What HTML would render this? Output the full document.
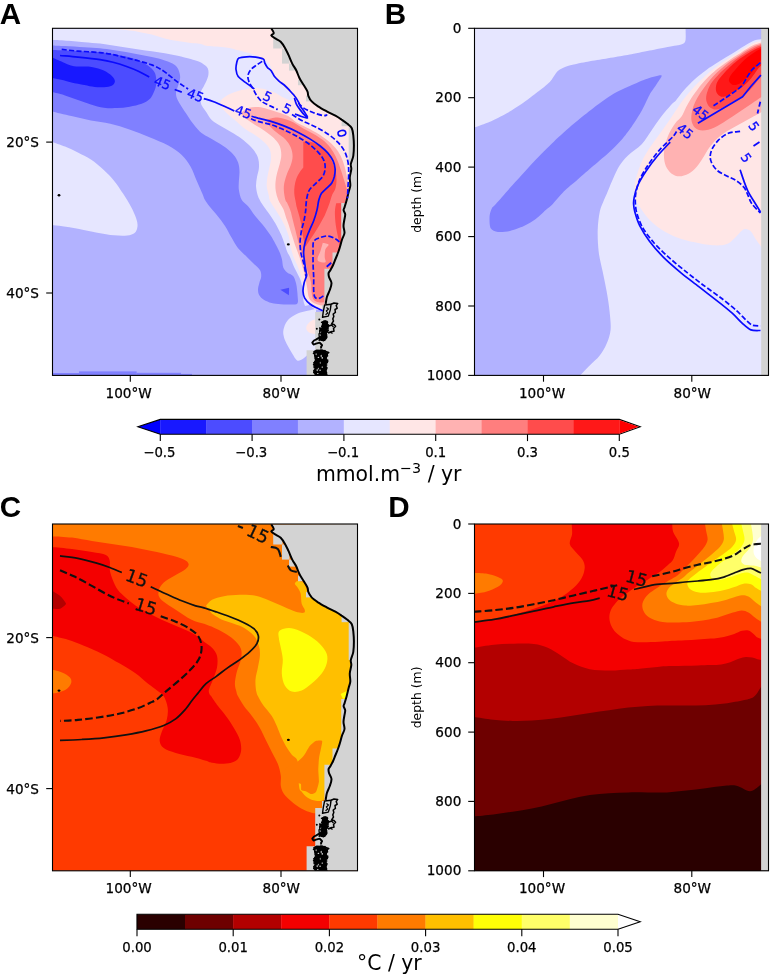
<!DOCTYPE html>
<html><head><meta charset="utf-8"><title>Figure</title>
<style>html,body{margin:0;padding:0;background:#fff}svg{display:block}</style></head>
<body>
<svg width="772" height="976" viewBox="0 0 772 976" font-family="'DejaVu Sans', 'Liberation Sans', sans-serif">
<defs>
<clipPath id="clipA"><rect x="52.5" y="28.3" width="305" height="347.1"/></clipPath>
<clipPath id="clipB"><rect x="474.5" y="28.3" width="294" height="347.1"/></clipPath>
<clipPath id="clipC"><rect x="52.5" y="524.0" width="305" height="346.8"/></clipPath>
<clipPath id="clipD"><rect x="474.5" y="524.0" width="294" height="346.8"/></clipPath>
</defs>
<rect width="772" height="976" fill="#fff"/>
<g clip-path="url(#clipA)">
<rect x="52" y="28" width="306" height="348" fill="rgb(178,178,255)"/>
<path d="M52.0 39.9C54.8 40.0 63.4 40.3 68.8 40.7C74.2 41.1 79.2 41.7 84.4 42.2C89.6 42.7 95.2 43.0 100.0 43.5C104.8 44.0 108.7 44.9 113.0 45.5C117.3 46.1 121.6 46.8 125.9 47.4C130.2 48.0 134.6 48.8 138.9 49.4C143.2 50.0 147.5 50.6 151.8 51.3C156.1 51.9 160.5 52.5 164.8 53.3C169.1 54.0 173.4 54.8 177.7 55.8C182.0 56.8 187.3 58.2 190.7 59.1C194.1 60.0 196.0 60.6 198.0 61.3C200.0 62.0 200.9 62.4 202.5 63.5C204.1 64.7 206.7 66.4 207.7 68.2C208.7 70.0 208.6 72.4 208.4 74.6C208.2 76.8 207.2 79.1 206.4 81.1C205.6 83.0 204.8 84.3 203.8 86.3C202.8 88.2 201.1 90.4 200.6 92.8C200.1 95.2 200.4 98.3 200.6 100.5C200.8 102.7 200.9 103.8 201.9 105.7C202.9 107.7 204.8 109.8 206.4 112.2C208.0 114.6 209.5 117.8 211.7 120.0C213.9 122.2 216.6 123.5 219.4 125.2C222.2 126.9 225.2 128.5 228.5 130.4C231.8 132.3 235.7 134.5 238.9 136.8C242.1 139.1 245.3 141.6 247.9 144.0C250.5 146.4 252.7 148.6 254.4 151.1C256.1 153.6 257.6 156.1 258.3 158.9C259.1 161.7 259.1 164.9 258.9 167.9C258.7 170.9 257.5 174.0 257.0 177.0C256.5 180.0 255.9 183.1 256.0 186.1C256.1 189.1 256.9 192.7 257.6 195.1C258.3 197.5 259.0 198.6 260.0 200.5C261.0 202.4 262.1 204.0 263.8 206.5C265.5 209.0 268.1 212.3 270.3 215.5C272.5 218.7 275.0 222.7 276.8 225.9C278.6 229.2 280.0 232.0 281.3 235.0C282.6 238.0 283.6 241.2 284.6 244.0C285.6 246.8 286.3 249.6 287.2 251.8C288.1 254.0 288.8 254.4 290.0 257.0C291.2 259.6 292.7 263.9 294.3 267.4C295.9 270.8 298.2 274.7 299.5 277.7C300.8 280.7 301.4 282.9 302.0 285.5C302.6 288.1 302.8 290.6 303.0 293.0C303.2 295.4 303.0 297.8 303.3 300.0C303.6 302.2 304.7 305.0 305.0 306.0L330 300L358 200L358 28L52 28Z" fill="rgb(230,230,255)" />
<path d="M316.0 309.0C314.4 309.3 309.4 310.3 306.5 311.0C303.6 311.7 301.0 312.1 298.3 313.3C295.6 314.5 292.2 316.2 290.1 318.0C288.0 319.8 286.6 321.5 285.5 323.8C284.4 326.1 283.3 329.3 283.2 332.0C283.1 334.7 284.0 337.6 284.9 340.1C285.8 342.6 287.1 344.8 288.4 347.1C289.7 349.4 291.1 351.9 292.5 354.1C293.9 356.3 295.4 359.7 297.1 360.5C298.9 361.3 301.1 359.9 303.0 358.8C304.9 357.7 306.6 355.7 308.8 354.1C311.0 352.5 314.8 349.9 316.0 349.0Z" fill="rgb(230,230,255)" />
<path d="M52.0 142.0C54.2 142.8 60.7 144.9 65.0 146.6C69.3 148.3 73.6 150.2 77.9 152.4C82.2 154.6 86.6 156.6 90.9 159.5C95.2 162.4 99.9 166.3 103.8 169.9C107.7 173.5 111.0 176.9 114.2 180.9C117.4 184.9 120.4 189.5 123.2 193.8C126.0 198.1 128.8 202.7 131.0 206.8C133.2 210.9 135.1 215.2 136.2 218.4C137.3 221.6 137.7 223.8 137.5 226.2C137.3 228.6 136.6 231.1 134.9 232.7C133.2 234.2 130.5 235.1 127.1 235.5C123.6 235.9 119.2 235.8 114.2 235.3C109.2 234.8 103.3 233.8 97.3 232.7C91.2 231.6 83.7 229.9 77.9 228.8C72.1 227.7 66.7 226.8 62.4 226.2C58.1 225.5 53.7 225.1 52.0 224.9L40 225L40 140Z" fill="rgb(230,230,255)" />
<path d="M52.0 45.5C54.2 45.6 59.6 45.8 65.0 46.1C70.4 46.4 78.6 46.9 84.4 47.3C90.2 47.7 95.2 47.8 100.0 48.3C104.8 48.8 108.7 49.4 113.0 50.0C117.3 50.6 121.6 51.2 125.9 52.0C130.2 52.8 134.6 53.8 138.9 54.6C143.2 55.5 147.5 56.1 151.8 57.1C156.1 58.1 161.4 59.3 164.8 60.4C168.2 61.5 170.3 62.3 172.5 63.6C174.7 64.9 176.5 66.4 177.7 68.2C178.9 70.0 179.5 72.7 179.9 74.6C180.3 76.5 180.2 77.8 179.9 79.8C179.6 81.8 178.6 84.1 177.9 86.3C177.2 88.5 176.1 90.6 176.0 92.8C175.9 95.0 176.3 96.8 177.3 99.2C178.3 101.6 180.2 104.4 181.8 107.0C183.4 109.6 185.3 112.2 187.0 114.8C188.7 117.4 190.0 119.8 192.2 122.6C194.4 125.4 197.4 129.3 200.0 131.7C202.6 134.1 205.0 135.1 207.8 136.8C210.6 138.5 213.8 140.2 216.8 142.0C219.8 143.8 223.1 145.6 225.9 147.8C228.7 150.0 231.6 152.5 233.7 155.0C235.8 157.5 237.2 159.9 238.2 162.7C239.2 165.5 239.4 168.8 239.5 171.8C239.6 174.8 239.0 177.9 238.9 180.9C238.8 183.9 238.4 186.7 238.9 189.9C239.4 193.1 240.2 197.2 241.8 200.0C243.4 202.8 246.1 203.9 248.3 206.5C250.5 209.1 252.4 212.5 254.8 215.5C257.2 218.5 259.9 221.3 262.5 224.6C265.1 227.8 268.1 231.8 270.3 235.0C272.5 238.2 274.0 241.2 275.5 244.0C277.0 246.8 278.3 249.2 279.4 251.8C280.5 254.4 281.4 257.0 282.0 259.6C282.6 262.2 282.4 265.2 283.3 267.4C284.2 269.5 285.6 271.1 287.2 272.5C288.8 273.9 291.6 274.2 293.1 276.0C294.6 277.8 295.3 280.7 296.0 283.0C296.7 285.3 296.8 287.7 297.1 290.0C297.4 292.3 297.6 294.8 297.7 297.0C297.8 299.2 298.5 302.2 297.4 303.4C296.3 304.6 294.1 304.2 291.3 304.4C288.5 304.5 284.0 304.5 280.7 304.3C277.4 304.1 274.4 303.8 271.6 303.0C268.8 302.2 265.9 301.0 263.8 299.7C261.8 298.4 260.3 296.9 259.3 295.2C258.3 293.5 258.0 291.4 258.0 289.4C258.0 287.3 258.8 285.1 259.3 282.9C259.8 280.7 261.1 278.6 261.2 276.4C261.3 274.2 261.2 272.0 259.9 269.9C258.6 267.8 255.9 265.9 253.5 263.5C251.1 261.1 248.3 258.3 245.7 255.7C243.1 253.1 240.3 250.9 237.9 247.9C235.5 244.9 233.7 241.3 231.5 237.6C229.3 233.9 227.4 229.6 225.0 225.9C222.6 222.2 219.8 218.7 217.2 215.5C214.6 212.3 211.6 209.1 209.6 206.5C207.6 203.9 206.2 202.1 205.0 200.0C203.8 197.9 203.9 197.2 202.5 194.0C201.1 190.8 198.8 185.6 196.8 181.0C194.8 176.4 193.1 170.9 190.5 166.5C187.9 162.1 185.2 158.3 181.5 154.8C177.8 151.3 173.7 148.6 168.3 145.6C162.9 142.6 155.4 139.7 148.9 137.0C142.4 134.3 135.8 131.6 129.4 129.4C123.0 127.2 116.7 125.3 110.3 123.8C103.9 122.3 97.4 121.9 90.9 120.6C84.4 119.3 77.9 117.6 71.4 116.1C64.9 114.6 55.2 112.3 52.0 111.5L40 111L40 45Z" fill="rgb(128,128,255)" />
<path d="M52.0 50.0C55.2 50.1 64.9 50.5 71.4 50.8C77.9 51.1 86.1 51.6 90.9 51.8C95.7 52.0 96.3 51.9 100.0 52.2C103.7 52.6 108.7 53.2 113.0 53.9C117.3 54.6 121.6 55.4 125.9 56.5C130.2 57.6 135.2 58.9 138.9 60.4C142.6 61.9 145.3 63.7 147.9 65.6C150.5 67.5 153.0 69.6 154.4 72.0C155.8 74.4 156.1 77.2 156.3 79.8C156.5 82.4 156.2 85.2 155.6 87.6C155.0 90.0 153.8 92.5 152.8 94.4C151.8 96.3 151.2 97.6 149.4 99.2C147.6 100.8 145.0 102.5 141.7 103.8C138.4 105.0 133.8 106.0 129.7 106.7C125.5 107.4 121.1 107.9 116.8 108.1C112.5 108.3 108.1 108.3 103.8 107.7C99.5 107.1 95.2 105.7 90.9 104.4C86.6 103.1 82.2 101.4 77.9 99.9C73.6 98.4 69.3 96.7 65.0 95.4C60.7 94.1 54.2 92.6 52.0 92.1L40 92L40 50Z" fill="rgb(76,76,255)" />
<path d="M52.0 57.5C53.7 58.2 58.7 60.4 62.4 61.9C66.1 63.4 69.7 65.4 74.0 66.2C78.3 67.0 83.8 66.0 88.3 66.6C92.8 67.1 97.5 68.2 101.2 69.5C104.9 70.8 108.0 72.8 110.3 74.6C112.6 76.4 114.4 78.8 114.8 80.5C115.2 82.2 114.3 83.9 112.9 85.0C111.5 86.1 109.4 86.6 106.4 86.9C103.4 87.2 98.4 87.2 94.7 86.9C91.0 86.6 88.3 85.8 84.4 85.0C80.5 84.2 75.3 83.3 71.4 82.4C67.5 81.5 64.3 80.5 61.1 79.8C57.9 79.0 53.5 78.2 52.0 77.9L40 78L40 57Z" fill="rgb(24,24,255)" />
<path d="M280.4 289.7L289.1 287.8L288.9 295.2Z" fill="rgb(76,76,255)" />
<rect x="52" y="373.0" width="27.2" height="3" fill="rgb(128,128,255)"/>
<rect x="79" y="371.4" width="57.7" height="5" fill="rgb(128,128,255)"/>
<rect x="136.5" y="372.8" width="44.5" height="3" fill="rgb(128,128,255)"/>
<rect x="181" y="373.9" width="11" height="2" fill="rgb(128,128,255)"/>
<path d="M104.0 28.0C104.6 28.1 104.1 28.3 107.8 28.6C111.5 28.9 120.7 29.4 125.9 30.0C131.1 30.6 134.6 31.1 138.9 31.9C143.2 32.6 147.5 33.4 151.8 34.5C156.1 35.6 160.5 37.3 164.8 38.4C169.1 39.5 173.4 40.2 177.7 41.0C182.0 41.8 187.0 42.4 190.7 42.9C194.4 43.4 197.2 43.3 200.0 43.8C202.8 44.3 203.4 45.5 207.7 46.1C212.0 46.7 220.8 46.8 226.0 47.5C231.2 48.2 234.7 49.4 239.0 50.5C243.3 51.6 248.3 52.8 252.0 54.0C255.7 55.2 258.4 56.2 261.0 57.5C263.6 58.8 265.7 60.4 267.4 62.0C269.1 63.6 270.1 65.1 271.0 67.0C271.9 68.9 271.6 71.2 272.5 73.3C273.4 75.4 274.6 77.6 276.4 79.8C278.1 82.0 280.8 84.1 283.0 86.3C285.2 88.5 287.5 90.6 289.4 92.8C291.3 95.0 293.6 98.5 294.6 99.5C295.6 100.5 295.4 98.7 295.5 98.5L290.7 100.5C289.4 100.0 285.5 98.6 282.9 97.3C280.3 96.0 277.7 94.0 275.1 92.8C272.5 91.6 270.2 90.7 267.4 89.9C264.6 89.1 261.3 88.4 258.3 88.2C255.3 88.0 252.4 88.2 249.2 88.6C246.0 89.0 242.1 89.9 238.9 90.8C235.7 91.7 232.5 92.8 229.8 94.1C227.1 95.4 224.3 97.2 222.7 98.6C221.1 100.0 220.5 101.8 220.1 102.5L222.0 108.3C223.1 109.4 226.1 112.6 228.5 114.8C230.9 117.0 233.5 118.9 236.3 121.3C239.1 123.7 242.1 126.7 245.3 129.1C248.5 131.5 252.4 133.2 255.7 135.5C258.9 137.8 262.4 140.3 264.8 142.7C267.2 145.1 268.9 147.1 269.9 149.8C270.9 152.5 271.1 155.9 271.0 158.9C270.9 161.9 269.9 164.9 269.3 167.9C268.7 170.9 267.8 174.0 267.4 177.0C267.0 180.0 266.5 183.1 266.7 186.1C266.9 189.1 268.2 192.7 268.7 195.1C269.2 197.5 268.9 198.4 269.8 200.5C270.7 202.6 272.4 204.9 274.2 207.8C276.0 210.7 278.8 214.7 280.7 218.1C282.6 221.5 284.5 225.2 285.9 228.5C287.3 231.8 288.4 234.6 289.1 237.6C289.9 240.6 289.6 243.4 290.4 246.6C291.1 249.8 292.3 253.5 293.6 257.0C294.9 260.5 296.9 263.9 298.2 267.4C299.5 270.8 300.5 274.2 301.4 277.7C302.2 281.1 302.8 285.1 303.3 288.1C303.8 291.1 303.8 293.5 304.6 295.9C305.4 298.3 306.6 300.4 307.9 302.3C309.2 304.2 310.6 306.2 312.4 307.5C314.2 308.8 316.6 309.7 318.9 310.1C321.2 310.5 324.8 310.1 326.0 310.1L358 310L358 28Z" fill="rgb(255,230,230)" />
<path d="M316.0 319.1C315.2 319.4 312.6 319.9 311.1 320.9C309.6 321.9 307.9 323.6 307.1 325.0C306.3 326.4 306.0 328.2 306.5 329.6C307.0 331.0 308.4 332.3 310.0 333.1C311.6 333.9 315.0 334.1 316.0 334.3Z" fill="rgb(255,230,230)" />
<path d="M241.5 112.2C242.8 111.5 246.4 108.6 249.2 107.7C252.0 106.8 255.3 106.8 258.3 107.0C261.3 107.2 264.2 108.1 267.4 109.0C270.6 109.9 274.2 111.0 277.7 112.2C281.1 113.4 284.9 114.3 288.1 116.1C291.3 117.8 293.3 120.5 296.9 122.7C300.5 124.9 305.5 126.7 309.8 129.1C314.1 131.5 319.1 134.4 322.8 136.9C326.5 139.4 329.2 141.5 331.8 144.0C334.4 146.5 336.5 149.0 338.3 151.8C340.1 154.6 341.5 157.5 342.8 160.9C344.1 164.3 345.2 168.6 346.1 172.5C347.0 176.4 347.4 180.3 348.0 184.2C348.6 188.1 349.2 194.0 349.5 196.0L358 200L358 305L324.0 305.6C323.6 305.6 323.0 305.9 321.5 305.6C320.0 305.3 317.1 304.8 315.0 303.6C312.9 302.4 310.5 301.0 309.2 298.4C307.9 295.8 307.8 291.6 307.2 288.1C306.6 284.7 306.1 281.1 305.3 277.7C304.6 274.2 303.7 270.8 302.7 267.4C301.7 263.9 300.7 260.5 299.5 257.0C298.3 253.5 296.8 250.0 295.6 246.6C294.4 243.2 293.5 240.1 292.3 236.3C291.1 232.5 289.5 227.2 288.4 224.0C287.3 220.8 286.6 219.3 285.8 216.8C285.0 214.3 284.5 211.8 283.3 209.1C282.1 206.3 279.6 203.3 278.4 200.3C277.1 197.3 276.3 194.2 275.8 191.2C275.3 188.2 275.3 185.2 275.5 182.2C275.7 179.2 276.4 176.1 277.1 173.1C277.8 170.1 279.0 167.0 279.7 164.0C280.4 161.0 281.3 158.0 281.3 155.0C281.3 152.0 280.9 148.7 279.7 145.9C278.4 143.1 276.3 140.6 273.8 138.1C271.3 135.6 268.0 133.3 264.8 131.0C261.6 128.7 257.4 126.4 254.4 124.5C251.4 122.6 248.9 120.8 247.0 119.5C245.1 118.2 243.4 117.0 242.7 116.5Z" fill="rgb(255,178,178)" />
<path d="M266.5 119.5C268.4 119.2 273.7 117.2 277.7 117.4C281.7 117.7 286.1 119.2 290.4 121.0C294.7 122.8 299.0 126.1 303.3 128.5C307.6 130.9 312.4 133.1 316.3 135.6C320.2 138.1 323.9 140.7 326.7 143.4C329.5 146.1 331.3 148.9 333.1 151.8C334.9 154.7 336.4 157.9 337.7 160.9C339.0 163.9 339.8 166.7 340.9 169.9C342.0 173.1 343.0 176.8 344.1 180.3C345.2 183.8 346.6 188.1 347.4 190.7C348.2 193.3 348.7 195.1 349.0 196.0L358 200L358 302L324.5 302.3C323.6 302.3 320.7 302.7 318.9 302.3C317.1 301.9 314.9 301.2 313.7 299.7C312.5 298.2 312.1 296.1 311.7 293.3C311.3 290.5 311.5 285.9 311.1 283.0C310.7 280.1 309.7 277.8 309.2 276.0C308.7 274.2 308.5 274.8 307.9 272.5C307.2 270.2 306.4 265.6 305.3 262.2C304.2 258.8 302.6 255.2 301.4 251.8C300.2 248.4 299.2 244.9 298.2 241.5C297.2 238.1 296.5 234.6 295.6 231.1C294.7 227.6 293.9 224.1 293.0 220.7C292.1 217.2 291.4 213.3 290.4 210.4C289.4 207.5 288.0 204.7 287.2 203.0C286.4 201.3 286.1 202.3 285.5 200.3C284.9 198.3 284.1 194.0 283.9 191.2C283.7 188.4 283.7 186.3 284.2 183.5C284.7 180.7 285.7 177.4 286.8 174.4C287.9 171.4 289.7 168.3 290.7 165.3C291.7 162.3 292.6 159.3 292.6 156.3C292.6 153.3 291.9 150.0 290.7 147.2C289.5 144.4 287.9 141.9 285.5 139.4C283.1 136.9 279.0 134.5 276.4 132.3C273.8 130.2 271.1 127.5 270.0 126.5Z" fill="rgb(255,126,126)" />
<path d="M303.3 141.5C304.4 141.5 307.6 141.3 309.8 141.7C312.0 142.1 314.1 142.8 316.3 144.0C318.5 145.2 320.9 146.9 322.8 148.6C324.7 150.3 326.3 152.1 327.9 154.4C329.5 156.7 331.2 159.4 332.5 162.2C333.8 165.0 334.8 168.2 335.5 171.2C336.2 174.2 336.5 177.1 336.5 180.0C336.5 182.9 336.1 185.9 335.4 188.4C334.7 190.9 333.1 192.5 332.1 194.9C331.1 197.3 330.5 200.3 329.6 203.0C328.7 205.7 327.4 208.7 326.5 211.0C325.6 213.3 325.3 214.3 324.0 216.8C322.7 219.3 320.8 222.7 318.9 225.9C317.0 229.2 314.3 233.3 312.4 236.3C310.4 239.3 308.4 242.2 307.2 244.0C306.0 245.8 305.6 246.4 305.3 246.9L304.4 242.7C304.1 241.4 303.2 237.8 302.7 235.0C302.2 232.2 301.9 228.9 301.4 225.9C300.9 222.9 300.2 219.8 299.5 216.8C298.8 213.8 297.5 210.1 296.9 207.8C296.3 205.5 296.3 205.2 295.9 202.9C295.5 200.6 294.5 196.6 294.3 193.8C294.1 191.0 294.2 188.7 294.6 186.1C295.0 183.5 295.6 180.7 296.5 178.3C297.4 175.9 298.9 173.6 300.0 171.8C301.1 170.0 302.8 168.1 303.3 167.4L303.3 167.4L303.3 141.5Z" fill="rgb(255,76,76)" />
<path d="M336.2 203.2C336.0 204.6 335.0 207.8 334.9 211.5C334.8 215.2 335.2 220.5 335.8 225.3C336.4 230.1 337.9 236.2 338.6 240.1C339.3 244.0 339.8 247.5 340.0 249.0L345 249L345 203Z" fill="rgb(255,76,76)" />
<path d="M322.8 242.7C323.8 243.0 328.2 243.6 328.6 244.7C329.0 245.8 326.0 247.1 325.4 249.2C324.8 251.2 324.7 254.8 324.7 257.0C324.7 259.2 326.4 261.4 325.4 262.2C324.4 262.9 320.2 262.1 318.9 261.5C317.6 260.9 317.4 259.9 317.6 258.3C317.8 256.7 319.4 254.0 320.2 251.8C320.9 249.6 321.8 246.4 322.1 245.3Z" fill="rgb(255,178,178)" />
<path d="M271.3 28.4C271.7 29.2 273.8 31.8 273.8 33.0C273.8 34.2 271.0 34.6 271.3 35.5C271.6 36.4 274.1 37.6 275.7 38.6C277.3 39.6 279.1 40.2 280.7 41.7C282.2 43.2 283.7 45.6 285.0 47.9C286.3 50.2 287.4 52.7 288.7 55.4C289.9 58.1 291.2 61.6 292.5 64.1C293.8 66.6 295.1 68.0 296.2 70.3C297.3 72.6 298.2 75.4 299.3 77.7C300.4 80.0 301.6 81.7 303.0 84.0C304.4 86.3 306.5 89.4 307.4 91.4C308.3 93.4 307.6 94.1 308.3 95.8C309.0 97.5 310.1 99.7 311.7 101.4C313.3 103.2 315.5 104.7 318.0 106.3C320.5 107.9 323.8 109.7 326.7 111.3C329.6 112.9 332.9 114.3 335.4 115.7C337.9 117.1 339.6 118.2 341.6 119.6C343.7 121.0 346.0 122.7 347.7 124.1C349.4 125.5 350.9 126.3 351.8 128.2C352.7 130.1 353.0 132.5 353.3 135.4C353.6 138.3 353.9 142.2 353.9 145.6C353.9 149.0 353.8 152.8 353.3 155.9C352.8 159.0 351.1 161.9 350.8 164.1C350.5 166.3 351.5 167.0 351.3 169.2C351.1 171.4 350.0 174.7 349.8 177.4C349.6 180.1 350.5 183.2 350.3 185.6C350.1 188.0 349.3 189.3 348.7 191.7C348.1 194.1 347.4 197.3 346.7 199.9C346.0 202.5 345.1 205.4 344.6 207.1C344.1 208.8 343.5 209.0 343.6 210.2C343.7 211.4 345.1 212.7 345.2 214.3C345.3 215.9 344.6 218.1 344.3 220.0C344.0 221.9 343.5 223.8 343.5 226.0C343.5 228.2 344.7 230.8 344.5 233.0C344.3 235.2 342.9 237.0 342.2 239.0C341.5 241.0 341.1 242.8 340.5 245.0C339.9 247.2 339.1 249.7 338.3 252.0C337.5 254.3 336.4 256.8 335.5 259.0C334.6 261.2 333.9 263.2 333.1 265.0C332.3 266.8 331.2 268.7 330.5 270.0C329.8 271.3 328.9 271.8 328.6 273.0C328.4 274.2 328.5 275.3 329.0 277.0C329.5 278.7 331.4 280.8 331.5 283.0C331.6 285.2 330.6 287.7 329.8 290.0C329.0 292.3 327.6 294.7 326.9 297.0C326.2 299.3 325.9 302.8 325.7 304.0L358 304.0L358 28.0Z" fill="rgb(211,211,211)" />
<rect x="273.2" y="35.7" width="9.3" height="12.8" fill="rgb(211,211,211)"/>
<rect x="282.0" y="48.5" width="7.5" height="15.1" fill="rgb(211,211,211)"/>
<rect x="289.0" y="63.6" width="8.0" height="7.0" fill="rgb(211,211,211)"/>
<rect x="298.0" y="79.6" width="6.0" height="5.6" fill="rgb(211,211,211)"/>
<rect x="306.0" y="95.8" width="5.0" height="5.6" fill="rgb(211,211,211)"/>
<rect x="341.6" y="120.6" width="6.4" height="5.6" fill="rgb(211,211,211)"/>
<rect x="348.7" y="126.0" width="6.3" height="38.0" fill="rgb(211,211,211)"/>
<path d="M348.5 200.0L345.5 200.0L345.5 203.0L341.2 203.0L341.2 252.5L332.5 252.5L332.5 268.7L324.4 268.7L324.4 305.0L322.0 305.0L322.0 312.0L315.2 312.0L315.2 350.3L306.6 350.3L306.6 376.0L358.0 376.0L358.0 200.0Z" fill="rgb(211,211,211)" />
<path d="M271.3 28.4C271.7 29.2 273.8 31.8 273.8 33.0C273.8 34.2 271.0 34.6 271.3 35.5C271.6 36.4 274.1 37.6 275.7 38.6C277.3 39.6 279.1 40.2 280.7 41.7C282.2 43.2 283.7 45.6 285.0 47.9C286.3 50.2 287.4 52.7 288.7 55.4C289.9 58.1 291.2 61.6 292.5 64.1C293.8 66.6 295.1 68.0 296.2 70.3C297.3 72.6 298.2 75.4 299.3 77.7C300.4 80.0 301.6 81.7 303.0 84.0C304.4 86.3 306.5 89.4 307.4 91.4C308.3 93.4 307.6 94.1 308.3 95.8C309.0 97.5 310.1 99.7 311.7 101.4C313.3 103.2 315.5 104.7 318.0 106.3C320.5 107.9 323.8 109.7 326.7 111.3C329.6 112.9 332.9 114.3 335.4 115.7C337.9 117.1 339.6 118.2 341.6 119.6C343.7 121.0 346.0 122.7 347.7 124.1C349.4 125.5 350.9 126.3 351.8 128.2C352.7 130.1 353.0 132.5 353.3 135.4C353.6 138.3 353.9 142.2 353.9 145.6C353.9 149.0 353.8 152.8 353.3 155.9C352.8 159.0 351.1 161.9 350.8 164.1C350.5 166.3 351.5 167.0 351.3 169.2C351.1 171.4 350.0 174.7 349.8 177.4C349.6 180.1 350.5 183.2 350.3 185.6C350.1 188.0 349.3 189.3 348.7 191.7C348.1 194.1 347.4 197.3 346.7 199.9C346.0 202.5 345.1 205.4 344.6 207.1C344.1 208.8 343.5 209.0 343.6 210.2C343.7 211.4 345.1 212.7 345.2 214.3C345.3 215.9 344.6 218.1 344.3 220.0C344.0 221.9 343.5 223.8 343.5 226.0C343.5 228.2 344.7 230.8 344.5 233.0C344.3 235.2 342.9 237.0 342.2 239.0C341.5 241.0 341.1 242.8 340.5 245.0C339.9 247.2 339.1 249.7 338.3 252.0C337.5 254.3 336.4 256.8 335.5 259.0C334.6 261.2 333.9 263.2 333.1 265.0C332.3 266.8 331.2 268.7 330.5 270.0C329.8 271.3 328.9 271.8 328.6 273.0C328.4 274.2 328.5 275.3 329.0 277.0C329.5 278.7 331.4 280.8 331.5 283.0C331.6 285.2 330.6 287.7 329.8 290.0C329.0 292.3 327.6 294.7 326.9 297.0C326.2 299.3 325.9 302.8 325.7 304.0" fill="none" stroke="#000" stroke-width="2.0" stroke-linejoin="round" stroke-linecap="butt" />
<path d="M324.6 305.0L331.1 304.2L330.3 309.9L328.3 316.1L322.5 317.3L323.4 310.8Z" fill="none" stroke="#000" stroke-width="1.4" stroke-linejoin="round" stroke-linecap="butt" />
<path d="M326.5 307.5L328.5 309.0L326.3 311.0L327.8 313.0L325.5 314.8" fill="none" stroke="#000" stroke-width="1.1" stroke-linejoin="round" stroke-linecap="butt" />
<path d="M331.1 304.2L334.0 303.0L337.7 303.4L336.2 305.5L337.2 308.3L335.0 309.5L335.4 312.4L333.2 314.0L333.8 316.5L332.8 318.9L333.5 321.0L331.6 323.9L334.0 324.5L335.6 326.3L333.5 328.5L334.0 331.2L331.5 331.5L329.5 332.9" fill="none" stroke="#000" stroke-width="1.5" stroke-linejoin="round" stroke-linecap="butt" />
<path d="M323.7 320.5L322.6 321.7L321.9 322.9L322.0 324.1L321.5 325.3L320.9 326.5L321.5 327.7L320.3 328.9L320.3 330.1L321.5 331.3L321.0 332.5L319.7 333.7L320.8 334.9L320.4 336.1L320.7 337.3L320.3 338.5L321.1 339.7L320.3 340.9L325.2 341.1L325.7 340.1L326.9 338.8L327.7 337.1L327.3 335.9L327.4 334.8L326.9 333.5L327.6 332.5L327.4 331.4L327.5 329.9L329.1 328.7L328.3 328.1L328.9 326.9L329.5 325.0L327.8 323.8L328.3 322.5L328.1 321.6L327.0 320.6Z" fill="#000" />
<path d="M326.0 321.0L324.1 321.2L321.5 322.4L323.0 323.0L325.1 322.3L326.1 323.1L326.6 323.2L328.5 325.7L328.4 326.8L325.9 328.1L326.7 330.8L328.5 330.0L327.9 331.2L325.2 331.3L323.3 329.6L320.9 331.2L320.0 330.2L322.1 328.4L321.8 328.9L323.9 330.8L326.0 330.0L325.5 329.6L327.6 332.1L325.7 330.8L324.2 329.7L324.1 330.5L322.8 328.2L322.3 327.9L322.7 330.4L323.8 330.8L324.4 332.0L321.9 334.2L323.5 336.4L325.1 336.2L324.6 334.4L325.3 332.5L322.9 331.3L321.0 330.8L319.8 328.6L319.7 328.1L321.8 329.0L319.8 328.0L319.9 327.6L321.8 330.4L321.7 330.6L320.1 328.9L319.6 330.8L319.8 333.4L319.0 333.9L319.2 336.5L321.2 337.8L319.9 337.4L319.1 339.1L320.7 338.5L319.1 340.3L321.9 339.4L323.6 340.9L322.1 340.3L319.5 338.2L319.6 337.3L322.1 337.3" fill="none" stroke="#000" stroke-width="1.3" stroke-linejoin="round" stroke-linecap="butt" />
<path d="M329.0 326.0L331.5 325.0L333.5 327.0" fill="none" stroke="#000" stroke-width="1.4" stroke-linejoin="round" stroke-linecap="butt" />
<path d="M328.0 333.0L330.5 332.0L332.5 333.5" fill="none" stroke="#000" stroke-width="1.4" stroke-linejoin="round" stroke-linecap="butt" />
<path d="M321.0 336.5L318.5 338.0L316.4 339.4L314.0 340.5L312.3 342.7L313.5 344.6L316.0 343.6L319.7 342.7L321.0 344.0L322.1 345.2L321.0 347.0L321.3 348.5" fill="none" stroke="#000" stroke-width="1.9" stroke-linejoin="round" stroke-linecap="butt" />
<path d="M316.5 349.5L314.1 350.8L312.8 352.1L314.6 353.4L314.0 354.7L314.0 356.0L314.3 357.3L314.4 358.6L314.9 359.9L314.9 361.2L312.8 362.5L314.6 363.8L315.1 365.1L314.0 366.4L315.1 367.7L315.0 369.0L314.8 370.3L313.4 371.6L313.3 372.9L315.1 374.2L314.2 375.5L328.7 375.4L327.2 374.2L327.3 372.6L326.9 371.7L326.8 370.1L327.3 369.3L327.8 367.7L326.5 366.0L327.8 365.0L326.5 364.1L326.4 362.8L327.9 360.9L327.0 359.8L326.8 358.8L327.2 357.0L328.3 356.2L328.0 354.4L328.1 353.4L326.4 352.2L325.5 350.6L326.4 349.9Z" fill="#000" />
<path d="M320.2 350.0L322.6 350.3L322.8 350.7L320.1 350.7L318.3 350.8L316.5 350.9L317.7 351.5L316.7 351.9L317.1 353.6L314.9 354.2L313.4 353.3L315.0 353.7L315.3 355.2L317.6 355.2L318.3 355.5L318.3 356.8L318.1 357.2L317.9 359.8L319.0 361.9L321.5 361.0L321.9 363.5L323.8 362.0L321.6 362.0L319.3 360.9L316.9 362.1L318.5 364.3L316.5 365.7L317.4 364.2L319.6 366.8L318.0 369.4L317.4 369.6L320.2 371.6L318.3 371.5L318.4 371.0L316.6 370.3L317.9 368.2L318.2 368.2L315.5 367.6L316.2 367.9L313.7 370.7L315.4 373.3L313.7 372.4L315.3 371.5L315.0 371.4L316.8 370.5L314.8 372.9L315.2 374.2L314.7 372.2L314.3 370.3L316.7 371.3L318.4 369.5L320.4 367.6L322.5 367.6L321.6 368.2L323.9 367.3L321.9 367.7L320.4 366.0L318.5 364.0L316.8 363.4L315.7 365.0L314.6 365.2L313.5 364.7L314.5 362.6L314.8 361.3L314.6 363.8L314.1 365.7L314.1 367.6L314.6 367.9L317.3 367.4L319.1 368.7L319.9 368.5L319.0 366.6L317.0 364.7L318.3 363.7L316.4 361.9L318.3 364.1L319.3 363.3L317.9 362.5L317.6 361.0L317.3 360.1L319.9 362.8L320.2 361.8L322.8 361.1L322.0 358.9L321.3 359.0L321.3 357.8L321.4 355.6L320.0 353.8L319.5 351.8L316.8 351.1L315.3 351.8L315.5 353.3L316.3 354.7L318.5 354.4L317.5 357.1L315.5 358.5L316.3 356.5L318.2 358.8L318.9 360.2L320.7 358.7L320.8 359.0L322.7 360.8L324.5 361.5L326.7 362.7L327.8 361.6L325.2 360.1L324.4 358.4L326.3 358.9L327.0 359.8L327.8 360.1L327.1 361.6L327.3 362.7L324.9 364.2L323.5 362.3L322.2 363.7L320.5 365.2L323.2 365.5L322.5 365.6L323.5 367.3L324.2 368.3L321.8 366.8" fill="none" stroke="#000" stroke-width="1.4" stroke-linejoin="round" stroke-linecap="butt" />
<path d="M324.0 351.0L328.7 352.6L325.5 354.5" fill="none" stroke="#000" stroke-width="1.7" stroke-linejoin="round" stroke-linecap="butt" />
<ellipse cx="318.3" cy="368.6" rx="0.5" ry="0.9" fill="rgb(211,211,211)"/>
<ellipse cx="316.1" cy="354.3" rx="0.5" ry="1.0" fill="rgb(211,211,211)"/>
<ellipse cx="322.2" cy="367.2" rx="0.5" ry="0.9" fill="rgb(211,211,211)"/>
<ellipse cx="320.2" cy="362.8" rx="0.4" ry="1.1" fill="rgb(211,211,211)"/>
<ellipse cx="317.8" cy="373.5" rx="0.8" ry="0.5" fill="rgb(211,211,211)"/>
<ellipse cx="320.1" cy="370.2" rx="0.8" ry="0.8" fill="rgb(211,211,211)"/>
<ellipse cx="318.4" cy="357.4" rx="0.8" ry="0.6" fill="rgb(211,211,211)"/>
<ellipse cx="321.2" cy="356.0" rx="0.6" ry="1.2" fill="rgb(211,211,211)"/>
<ellipse cx="317.2" cy="370.2" rx="0.6" ry="1.1" fill="rgb(211,211,211)"/>
<ellipse cx="322.3" cy="357.9" rx="0.8" ry="0.8" fill="rgb(211,211,211)"/>
<circle cx="319.3" cy="319.4" r="1.0" fill="#000"/>
<circle cx="316.8" cy="328.8" r="1.0" fill="#000"/>
<ellipse cx="59" cy="195.3" rx="1.4" ry="1.2" fill="#000"/>
<ellipse cx="288.3" cy="244.4" rx="1.5" ry="1.1" fill="#000"/>
<path d="M61.7 49.4C64.4 49.7 71.5 50.6 77.9 51.1C84.3 51.6 94.2 52.0 100.0 52.6C105.8 53.2 108.7 53.7 113.0 54.6C117.3 55.5 121.6 56.7 125.9 57.8C130.2 58.9 134.6 59.8 138.9 61.0C143.2 62.2 147.9 63.4 151.8 64.9C155.7 66.4 159.2 68.3 162.2 70.1C165.2 71.9 167.5 74.1 169.9 75.9C172.3 77.7 174.2 79.5 176.4 81.1C178.6 82.7 181.0 84.3 182.9 85.6C184.8 86.9 187.2 88.4 188.1 88.9" fill="none" stroke="rgb(10,10,255)" stroke-width="1.7" stroke-dasharray="5.2 2.2" stroke-linejoin="round" stroke-linecap="butt" />
<path d="M60.0 55.5C63.0 55.8 71.2 56.4 77.9 57.1C84.6 57.8 94.2 58.8 100.0 59.7C105.8 60.6 108.7 61.2 113.0 62.3C117.3 63.4 121.6 64.7 125.9 66.2C130.2 67.7 135.0 69.6 138.9 71.4C142.8 73.2 147.5 76.1 149.2 77.0" fill="none" stroke="rgb(10,10,255)" stroke-width="1.7" stroke-linejoin="round" stroke-linecap="butt" />
<path d="M174.7 89.5L181.8 92.1" fill="none" stroke="rgb(10,10,255)" stroke-width="1.7" stroke-linejoin="round" stroke-linecap="butt" />
<path d="M203.8 98.6C205.3 99.1 209.3 100.1 213.0 101.5C216.7 102.9 222.3 105.4 225.9 107.0C229.5 108.6 232.9 110.3 234.3 111.0" fill="none" stroke="rgb(10,10,255)" stroke-width="1.8" stroke-linejoin="round" stroke-linecap="butt" />
<path d="M251.5 116.3C252.6 116.6 254.8 117.2 258.0 118.1C261.2 118.9 266.7 120.1 271.0 121.4C275.3 122.7 279.6 124.2 283.9 125.9C288.2 127.6 292.6 129.5 296.9 131.7C301.2 133.9 305.9 136.5 309.8 138.9C313.7 141.3 317.2 143.6 320.2 146.0C323.2 148.4 325.8 150.6 327.9 153.1C330.0 155.6 331.9 158.3 333.1 160.9C334.3 163.5 334.9 166.1 335.1 168.7C335.3 171.3 334.9 174.0 334.4 176.4C333.8 178.8 333.1 181.0 331.8 182.9C330.5 184.8 328.4 186.4 326.7 188.1C325.0 189.8 322.8 191.4 321.5 193.3C320.2 195.2 319.7 196.8 318.9 199.7C318.1 202.5 317.8 206.9 316.9 210.4C316.0 213.9 315.0 217.2 313.7 220.7C312.4 224.1 310.6 227.6 309.2 231.1C307.8 234.6 306.2 238.1 305.3 241.5C304.4 244.9 303.7 248.4 303.6 251.8C303.5 255.2 304.2 258.8 304.6 262.2C305.0 265.6 305.9 270.2 306.2 272.5C306.5 274.8 306.9 274.2 306.5 276.0C306.1 277.8 304.7 280.5 304.1 283.0C303.5 285.5 302.9 288.7 303.0 291.2C303.1 293.7 303.5 296.0 304.7 298.1C305.9 300.2 307.9 302.3 310.0 304.0C312.1 305.7 314.9 307.0 317.0 308.1C319.1 309.2 321.8 310.3 322.8 310.7" fill="none" stroke="rgb(10,10,255)" stroke-width="1.7" stroke-linejoin="round" stroke-linecap="butt" />
<path d="M251.0 118.8C252.2 119.2 254.7 120.4 258.0 121.4C261.3 122.4 266.7 123.2 271.0 124.6C275.3 126.0 279.6 127.9 283.9 129.8C288.2 131.8 292.6 133.8 296.9 136.3C301.2 138.8 306.1 141.9 309.8 144.7C313.5 147.5 316.5 150.4 318.9 153.1C321.3 155.8 323.1 158.3 324.1 160.9C325.1 163.5 325.3 166.1 325.1 168.7C324.9 171.3 324.3 174.0 322.8 176.4C321.3 178.8 318.5 180.7 316.3 182.9C314.1 185.1 311.4 187.0 309.8 189.4C308.2 191.8 307.6 194.4 307.0 197.2C306.4 200.0 306.1 204.0 305.9 206.2C305.7 208.4 306.0 208.0 305.7 210.4C305.4 212.8 304.7 217.2 304.0 220.7C303.3 224.1 302.0 227.6 301.4 231.1C300.8 234.6 300.2 238.1 300.1 241.5C300.0 244.9 300.3 248.8 300.7 251.8C301.1 254.8 302.0 257.0 302.7 259.6C303.4 262.2 304.1 264.6 304.6 267.4C305.1 270.2 305.7 274.9 305.9 276.4" fill="none" stroke="rgb(10,10,255)" stroke-width="1.7" stroke-dasharray="5.2 2.2" stroke-linejoin="round" stroke-linecap="butt" />
<path d="M254.4 88.9C253.3 88.1 247.2 83.8 245.3 82.4C243.4 81.0 239.3 78.1 238.2 76.6C237.1 75.1 236.2 71.2 236.0 69.5C235.8 67.8 236.6 63.0 236.9 61.7C237.2 60.4 237.8 58.7 238.9 58.1C240.0 57.5 244.6 56.9 246.6 56.8C248.6 56.7 253.7 56.8 255.7 57.1C257.7 57.4 262.4 58.4 263.5 59.1C264.6 59.8 264.3 62.0 264.8 63.0C265.3 64.0 266.7 66.6 267.4 67.5C268.1 68.4 270.4 69.6 271.2 70.7C272.0 71.8 273.6 75.4 274.5 76.6C275.4 77.8 277.9 80.1 279.0 81.1C280.1 82.1 283.0 83.9 284.2 85.0C285.4 86.1 288.2 88.9 289.4 90.2C290.6 91.5 293.6 94.6 294.6 96.0C295.7 97.4 297.8 100.7 298.4 101.8C299.0 102.9 299.4 104.7 300.0 105.7C300.6 106.7 302.6 109.2 303.5 110.5C304.4 111.8 307.1 116.2 307.6 117.0" fill="none" stroke="rgb(10,10,255)" stroke-width="1.7" stroke-linejoin="round" stroke-linecap="butt" />
<path d="M294.9 114.0C295.5 114.2 299.4 115.8 300.7 116.2C301.9 116.6 307.1 118.2 307.4 118.0C307.7 117.8 304.7 115.3 304.0 114.5C303.3 113.7 300.8 110.6 300.0 109.6C299.2 108.6 297.1 105.6 296.5 104.4C295.9 103.2 294.6 98.6 294.4 98.0" fill="none" stroke="rgb(10,10,255)" stroke-width="1.7" stroke-linejoin="round" stroke-linecap="butt" />
<path d="M262.2 61.4C261.1 62.1 257.6 64.1 255.7 65.6C253.8 67.0 251.8 68.4 250.5 70.1C249.2 71.8 248.1 73.9 247.9 75.9C247.7 78.0 248.3 80.2 249.2 82.4C250.1 84.6 251.8 86.6 253.1 88.9C254.4 91.2 255.5 93.8 257.0 96.0C258.5 98.2 260.1 100.2 262.2 101.8C264.3 103.4 267.3 104.4 269.9 105.7C272.5 107.0 276.4 108.9 277.7 109.6" fill="none" stroke="rgb(10,10,255)" stroke-width="1.7" stroke-dasharray="5.2 2.2" stroke-linejoin="round" stroke-linecap="butt" />
<path d="M292.0 114.5C293.9 115.7 299.2 119.3 303.3 121.4C307.4 123.5 312.0 124.9 316.3 127.2C320.6 129.5 325.5 132.4 329.2 135.0C332.9 137.6 335.7 139.9 338.3 142.7C340.9 145.5 343.2 148.6 344.8 151.8C346.4 155.1 347.4 158.8 348.0 162.2C348.6 165.6 348.7 168.4 348.7 172.5C348.7 176.6 348.2 182.7 348.0 187.0C347.8 191.3 347.5 196.5 347.4 198.4" fill="none" stroke="rgb(10,10,255)" stroke-width="1.7" stroke-dasharray="5.2 2.2" stroke-linejoin="round" stroke-linecap="butt" />
<path d="M298.2 102.6C299.1 103.5 300.9 106.2 303.3 107.8C305.7 109.4 309.1 111.0 312.4 112.3C315.6 113.6 320.3 115.1 322.8 115.5C325.3 115.9 326.6 115.0 327.3 114.9" fill="none" stroke="rgb(10,10,255)" stroke-width="1.7" stroke-dasharray="5.2 2.2" stroke-linejoin="round" stroke-linecap="butt" />
<ellipse cx="341.9" cy="133.2" rx="3.9" ry="2.7" transform="rotate(-12 341.9 133.2)" fill="none" stroke="rgb(10,10,255)" stroke-width="1.6"/>
<path d="M323.4 295.9C322.6 296.3 320.3 298.2 318.9 298.4C317.5 298.6 315.9 298.5 315.0 297.2C314.1 295.9 313.9 293.9 313.7 290.7C313.5 287.4 313.8 282.0 313.7 277.7C313.6 273.4 313.2 269.1 313.1 264.8C313.0 260.5 313.0 255.7 313.1 251.8C313.2 247.9 312.5 243.9 313.7 241.5C314.9 239.1 317.8 238.5 320.2 237.6C322.6 236.7 325.3 235.8 327.9 236.0C330.5 236.2 333.8 237.9 335.7 238.9C337.6 239.9 339.0 241.6 339.6 242.1" fill="none" stroke="rgb(10,10,255)" stroke-width="1.7" stroke-dasharray="5.2 2.2" stroke-linejoin="round" stroke-linecap="butt" />
<path d="M326.7 266.7L331.2 262.8" fill="none" stroke="rgb(10,10,255)" stroke-width="1.8" stroke-linejoin="round" stroke-linecap="butt" />
<text x="162.4" y="83.1" transform="rotate(22 162.4 83.1)" font-size="13.0" fill="rgb(10,10,255)" stroke="rgb(10,10,255)" stroke-width="0.3" text-anchor="middle" dominant-baseline="central">45</text>
<text x="195.4" y="95.4" transform="rotate(22 195.4 95.4)" font-size="13.0" fill="rgb(10,10,255)" stroke="rgb(10,10,255)" stroke-width="0.3" text-anchor="middle" dominant-baseline="central">45</text>
<text x="243.4" y="112.2" transform="rotate(20 243.4 112.2)" font-size="13.0" fill="rgb(10,10,255)" stroke="rgb(10,10,255)" stroke-width="0.3" text-anchor="middle" dominant-baseline="central">45</text>
<text x="267.4" y="96.7" transform="rotate(25 267.4 96.7)" font-size="13.0" fill="rgb(10,10,255)" stroke="rgb(10,10,255)" stroke-width="0.3" text-anchor="middle" dominant-baseline="central">5</text>
<text x="287.0" y="108.8" transform="rotate(25 287.0 108.8)" font-size="13.0" fill="rgb(10,10,255)" stroke="rgb(10,10,255)" stroke-width="0.3" text-anchor="middle" dominant-baseline="central">5</text>
</g>
<g clip-path="url(#clipB)">
<rect x="474" y="28" width="295" height="348" fill="rgb(178,178,255)"/>
<path d="M474.0 127.7C476.1 126.9 485.7 123.7 490.0 121.8C494.3 119.9 501.6 116.2 505.9 113.8C510.2 111.4 517.6 106.7 521.9 103.8C526.2 100.9 534.1 94.7 537.8 91.8C541.5 88.9 547.1 84.7 549.8 81.9C552.5 79.1 555.4 73.0 557.8 70.9C560.2 68.8 564.1 67.1 567.8 65.9C571.5 64.7 580.9 62.8 585.7 61.9C590.5 61.0 598.9 59.7 603.7 58.9C608.5 58.1 618.1 56.5 621.6 55.9C625.1 55.3 626.1 55.3 629.8 54.6C633.5 53.9 644.2 51.7 649.5 50.6C654.8 49.5 665.4 47.4 669.2 46.7C673.0 46.0 676.1 45.7 678.0 45.3C679.9 44.9 682.5 44.2 683.5 43.5C684.5 42.8 685.3 41.8 685.6 39.7C685.9 37.6 685.6 29.6 685.6 28.0L474 28Z" fill="rgb(230,230,255)" />
<path d="M579.7 376.0C581.4 374.3 586.4 369.0 589.7 365.6C593.0 362.2 596.9 359.3 599.7 355.6C602.5 351.9 604.9 347.9 606.7 343.6C608.5 339.3 610.1 335.0 610.6 329.7C611.1 324.4 610.2 318.0 609.6 311.7C609.0 305.4 607.9 298.4 606.7 291.8C605.6 285.2 604.0 278.4 602.7 271.8C601.4 265.2 599.5 258.9 598.7 251.9C597.9 244.9 597.5 236.6 597.7 229.9C597.9 223.2 598.8 216.7 599.7 212.0C600.6 207.3 601.9 205.4 603.2 202.0C604.5 198.6 606.0 195.7 607.7 191.6C609.4 187.5 611.6 181.9 613.6 177.6C615.6 173.3 617.2 169.3 619.6 165.6C622.0 161.9 624.3 159.1 628.0 155.5C631.7 151.9 637.8 148.4 641.7 144.2C645.6 140.0 648.2 135.0 651.5 130.4C654.8 125.8 658.0 120.9 661.3 116.6C664.6 112.3 668.8 107.5 671.2 104.8C673.6 102.1 674.0 102.6 675.9 100.5C677.8 98.4 680.0 94.9 682.4 92.1C684.8 89.3 687.5 86.3 690.1 83.7C692.7 81.1 695.1 79.0 697.9 76.6C700.7 74.2 704.0 71.7 707.0 69.5C710.0 67.3 712.8 65.7 716.0 63.6C719.2 61.5 722.9 59.2 726.4 57.1C729.9 55.0 733.3 52.9 736.8 50.7C740.2 48.6 744.1 45.9 747.1 44.2C750.1 42.5 752.4 41.2 754.9 40.3C757.4 39.4 760.8 39.2 762.0 39.0L770 39L770 376Z" fill="rgb(230,230,255)" />
<path d="M489.6 216.0C489.8 213.3 491.2 209.6 492.0 208.0C492.8 206.4 493.0 207.3 495.9 204.0C498.8 200.7 508.8 189.2 513.9 183.6C519.0 178.0 528.5 167.3 533.8 161.7C539.1 156.1 548.5 146.8 553.8 141.7C559.1 136.6 568.4 128.3 573.7 123.8C579.0 119.3 588.4 111.8 593.7 107.8C599.0 103.8 609.0 96.6 613.6 93.8C618.2 91.0 623.7 88.7 628.0 86.8C632.3 84.9 641.2 80.7 645.6 79.2C650.0 77.7 659.7 74.8 661.3 75.3C662.9 75.8 659.0 80.5 657.4 83.1C655.8 85.7 651.6 91.2 649.5 94.9C647.4 98.6 644.1 106.5 641.7 110.7C639.3 114.9 634.5 122.5 631.8 126.4C629.1 130.3 624.5 136.3 621.6 139.7C618.7 143.1 613.4 148.2 609.7 151.7C606.0 155.2 598.0 161.9 593.7 165.6C589.4 169.3 581.7 176.1 577.7 179.6C573.7 183.1 567.1 188.3 563.8 191.6C560.5 194.9 555.2 201.5 552.8 204.0C550.4 206.5 548.1 208.0 545.8 210.0C543.5 212.0 538.7 216.9 535.8 219.0C532.9 221.1 527.4 224.3 523.9 225.9C520.4 227.5 513.4 230.1 509.9 230.9C506.4 231.7 500.5 232.3 497.9 231.9C495.3 231.5 491.6 230.0 490.5 227.9C489.4 225.8 489.4 218.7 489.6 216.0Z" fill="rgb(128,128,255)" />
<path d="M762.0 41.0C760.8 41.2 757.4 41.5 754.9 42.5C752.4 43.5 750.1 45.0 747.1 46.8C744.1 48.6 740.2 51.1 736.8 53.3C733.3 55.4 729.6 57.6 726.4 59.7C723.1 61.9 720.1 64.2 717.3 66.2C714.5 68.2 712.2 69.8 709.6 72.0C707.0 74.2 704.4 76.7 701.8 79.2C699.2 81.7 696.6 84.1 694.0 86.9C691.4 89.7 688.6 93.1 686.2 96.0C683.8 98.9 681.7 101.7 679.8 104.4C677.9 107.1 676.4 109.5 674.6 112.2C672.8 114.9 671.7 116.8 669.2 120.5C666.7 124.2 662.7 129.7 659.4 134.3C656.1 138.9 652.5 143.5 649.5 148.1C646.5 152.7 643.8 157.3 641.7 161.9C639.6 166.5 637.9 171.1 636.7 175.7C635.5 180.3 634.5 185.4 634.4 189.5C634.3 193.6 634.8 196.6 636.0 200.0C637.2 203.4 639.5 206.5 641.7 209.8C644.0 213.1 646.2 216.4 649.5 219.7C652.8 223.0 656.7 226.6 661.3 229.5C665.9 232.4 671.5 235.3 677.1 237.4C682.7 239.5 688.9 241.0 694.8 242.3C700.7 243.6 707.2 245.0 712.5 245.3C717.8 245.6 722.7 245.5 726.3 244.3C729.9 243.2 731.6 240.7 734.2 238.4C736.8 236.1 740.1 232.1 742.1 230.5C744.1 228.9 744.5 228.9 746.0 229.1C747.5 229.3 749.2 229.8 750.9 231.5C752.5 233.2 754.0 236.7 755.9 239.4C757.8 242.1 761.0 246.2 762.0 247.5Z" fill="rgb(255,230,230)" />
<path d="M762.0 42.5C760.8 42.9 757.4 43.6 754.9 44.6C752.4 45.6 749.9 47.0 747.1 48.7C744.3 50.4 741.1 52.7 738.1 54.6C735.1 56.5 732.0 58.3 729.0 60.4C726.0 62.5 722.7 64.8 719.9 66.9C717.1 69.1 714.8 70.9 712.2 73.3C709.6 75.7 706.8 78.5 704.4 81.1C702.0 83.7 700.1 86.1 697.9 88.9C695.7 91.7 693.3 95.0 691.4 98.0C689.5 101.0 687.9 103.9 686.2 107.0C684.6 110.1 683.3 113.9 681.5 116.6C679.7 119.3 677.6 120.2 675.5 123.0C673.4 125.8 670.8 129.9 669.1 133.6C667.4 137.3 666.1 141.5 665.2 145.2C664.3 148.9 663.8 152.1 663.9 155.6C664.0 159.1 664.5 163.0 665.8 166.0C667.1 169.0 669.4 172.0 671.7 173.7C674.0 175.4 676.6 176.3 679.4 176.3C682.2 176.3 685.7 175.2 688.5 173.7C691.3 172.2 693.9 169.8 696.3 167.2C698.7 164.6 700.6 161.4 702.7 158.2C704.9 155.0 706.8 151.1 709.2 147.8C711.6 144.6 714.0 141.5 717.0 138.7C720.0 135.9 723.7 133.4 727.4 131.0C731.1 128.6 735.1 126.7 739.0 124.5C742.9 122.3 746.9 120.1 750.7 118.0C754.5 115.9 760.1 112.8 762.0 111.7Z" fill="rgb(255,178,178)" />
<path d="M762.0 43.8C760.8 44.2 757.4 45.0 754.9 46.1C752.4 47.2 749.9 48.6 747.1 50.3C744.3 52.0 741.1 54.2 738.1 56.2C735.1 58.2 731.8 60.2 729.0 62.3C726.2 64.4 723.8 66.5 721.2 68.8C718.6 71.1 715.9 73.4 713.5 75.9C711.1 78.4 709.2 80.9 707.0 83.7C704.8 86.5 702.5 89.8 700.5 92.8C698.5 95.8 696.7 98.8 695.3 101.8C693.9 104.8 692.8 107.9 692.1 110.9C691.5 113.9 691.0 117.2 691.4 120.0C691.8 122.8 692.9 125.7 694.8 127.4C696.7 129.1 699.4 130.4 702.7 130.4C706.0 130.4 710.6 129.1 714.5 127.4C718.4 125.8 722.4 123.0 726.3 120.5C730.2 118.0 734.1 115.3 738.1 112.7C742.1 110.1 746.0 107.5 750.0 104.8C754.0 102.1 760.0 97.9 762.0 96.5Z" fill="rgb(255,126,126)" />
<path d="M762.0 45.1C760.8 45.5 757.4 46.6 754.9 47.7C752.4 48.9 749.7 50.4 747.1 52.0C744.5 53.6 742.0 55.3 739.4 57.1C736.8 58.9 734.2 60.9 731.6 63.0C729.0 65.1 726.2 67.3 723.8 69.5C721.4 71.7 719.4 73.5 717.3 75.9C715.1 78.3 712.6 80.9 710.9 83.7C709.2 86.5 707.8 90.0 707.0 92.8C706.2 95.6 705.9 98.1 706.3 100.5C706.7 102.9 708.0 105.5 709.6 107.0C711.2 108.5 713.6 109.6 716.0 109.6C718.4 109.6 721.0 108.3 723.8 107.0C726.6 105.7 729.9 103.5 732.9 101.8C735.9 100.1 739.2 98.6 742.0 96.7C744.8 94.8 747.3 92.6 749.7 90.2C752.1 87.8 754.2 84.9 756.2 82.4C758.2 80.0 761.0 76.7 762.0 75.5Z" fill="rgb(255,76,76)" />
<path d="M762.0 46.4C760.8 46.9 757.4 48.1 754.9 49.4C752.4 50.6 749.7 52.3 747.1 53.9C744.5 55.5 742.0 57.2 739.4 59.1C736.8 61.0 734.0 63.4 731.6 65.6C729.2 67.8 727.3 69.6 725.1 72.0C722.9 74.4 720.1 77.4 718.6 79.8C717.1 82.2 716.3 84.1 716.0 86.3C715.7 88.5 715.8 91.1 716.7 92.8C717.6 94.5 719.4 96.3 721.2 96.7C723.0 97.1 725.1 96.5 727.7 95.4C730.3 94.3 734.0 91.9 736.8 90.2C739.6 88.5 742.1 87.0 744.5 85.0C746.9 83.0 748.8 81.1 751.0 78.5C753.2 75.9 755.7 71.8 757.5 69.5C759.3 67.2 761.2 65.6 762.0 64.8Z" fill="rgb(255,24,24)" />
<path d="M762.0 48.1C760.8 48.8 757.2 50.6 754.9 52.0C752.6 53.4 750.5 54.8 748.4 56.5C746.2 58.2 744.1 60.1 742.0 62.3C739.9 64.5 737.5 67.2 735.5 69.5C733.5 71.8 731.4 74.0 730.3 75.9C729.2 77.8 728.6 79.6 729.0 81.1C729.4 82.6 731.2 84.6 732.9 85.0C734.6 85.4 737.2 84.8 739.4 83.7C741.5 82.6 743.6 80.5 745.8 78.5C747.9 76.5 750.3 74.4 752.3 72.0C754.2 69.6 755.9 66.5 757.5 64.3C759.1 62.1 761.2 59.7 762.0 58.8Z" fill="rgb(255,0,0)" />
<rect x="761.2" y="28" width="8" height="348" fill="rgb(211,211,211)"/>
<path d="M697.9 123.2L742.6 96.7L751.0 86.3L760.9 75.1" fill="none" stroke="rgb(10,10,255)" stroke-width="1.7" stroke-linejoin="round" stroke-linecap="butt" />
<path d="M713.5 105.7C715.2 104.6 722.8 99.8 726.4 97.3C730.0 94.8 737.9 89.6 740.7 86.9C743.5 84.2 745.6 79.5 747.1 77.2C748.6 74.9 750.5 71.5 752.3 69.5C754.1 67.5 759.8 63.3 760.9 62.3" fill="none" stroke="rgb(10,10,255)" stroke-width="1.7" stroke-dasharray="5.2 2.2" stroke-linejoin="round" stroke-linecap="butt" />
<path d="M676.5 131.5C676.1 132.1 675.5 133.8 673.2 136.3C670.9 138.8 662.8 146.2 659.4 150.1C656.0 154.0 650.2 161.9 647.6 165.8C645.0 169.7 641.3 175.9 639.7 179.6C638.1 183.3 636.4 190.1 635.8 193.4C635.2 196.7 635.2 201.3 635.4 204.0C635.6 206.7 636.0 210.9 637.0 214.0C638.0 217.1 640.4 223.8 642.6 227.6C644.8 231.4 650.2 238.5 653.5 242.3C656.8 246.1 663.1 252.3 667.3 256.1C671.5 259.9 680.3 267.1 685.0 270.9C689.7 274.7 698.0 281.2 702.7 284.7C707.4 288.2 715.9 294.1 720.4 297.5C724.9 300.9 732.8 307.3 736.2 310.3C739.6 313.3 743.9 318.1 746.0 320.1C748.1 322.1 750.0 324.2 751.9 325.0C753.8 325.8 759.4 325.9 760.5 326.0" fill="none" stroke="rgb(10,10,255)" stroke-width="1.7" stroke-dasharray="5.2 2.2" stroke-linejoin="round" stroke-linecap="butt" />
<path d="M670.2 142.2C668.5 144.0 660.7 152.1 657.4 156.0C654.1 159.9 648.2 167.8 645.6 171.7C643.0 175.6 639.2 182.1 637.7 185.5C636.2 188.9 634.7 194.8 634.2 197.3C633.7 199.8 633.5 202.1 633.6 204.0C633.7 205.9 634.0 208.9 634.8 211.8C635.6 214.7 637.7 221.7 639.7 225.6C641.7 229.5 646.4 237.1 649.5 241.3C652.6 245.5 659.1 252.9 663.3 257.1C667.5 261.3 676.3 268.9 681.0 272.8C685.7 276.7 694.1 282.9 698.8 286.6C703.5 290.3 712.0 296.9 716.5 300.4C721.0 303.9 728.8 310.2 732.2 313.2C735.6 316.2 739.6 320.9 742.1 323.1C744.6 325.3 748.4 328.9 750.9 329.9C753.4 330.9 759.2 330.4 760.5 330.5" fill="none" stroke="rgb(10,10,255)" stroke-width="1.7" stroke-linejoin="round" stroke-linecap="butt" />
<path d="M740.1 131.4C738.1 131.7 731.9 131.8 728.3 133.3C724.7 134.8 721.2 137.4 718.4 140.2C715.6 143.0 712.9 146.8 711.6 150.1C710.3 153.4 709.8 156.6 710.6 159.9C711.4 163.2 713.9 167.2 716.5 169.8C719.1 172.4 723.0 173.9 726.3 175.7C729.6 177.5 733.2 178.6 736.2 180.6C739.2 182.6 742.1 185.0 744.1 187.5C746.1 190.0 746.7 192.7 748.0 195.4C749.3 198.2 749.9 201.1 752.0 204.0C754.1 206.9 759.1 211.5 760.5 213.0" fill="none" stroke="rgb(10,10,255)" stroke-width="1.7" stroke-dasharray="5.2 2.2" stroke-linejoin="round" stroke-linecap="butt" />
<path d="M740.1 169.8C740.8 171.8 742.8 178.0 744.1 181.6C745.4 185.2 746.4 188.1 748.0 191.4C749.6 194.7 751.8 197.9 753.9 201.3C756.0 204.7 759.4 210.2 760.5 212.0" fill="none" stroke="rgb(10,10,255)" stroke-width="1.7" stroke-linejoin="round" stroke-linecap="butt" />
<path d="M753.5 146L759.5 142" fill="none" stroke="rgb(10,10,255)" stroke-width="1.7" stroke-linejoin="round" stroke-linecap="butt" />
<path d="M760.3 101.8L757.5 113.5" fill="none" stroke="rgb(10,10,255)" stroke-width="1.8" stroke-dasharray="5 3" stroke-linejoin="round" stroke-linecap="butt" />
<text x="700.5" y="112.8" transform="rotate(38 700.5 112.8)" font-size="13.0" fill="rgb(10,10,255)" stroke="rgb(10,10,255)" stroke-width="0.3" text-anchor="middle" dominant-baseline="central">45</text>
<text x="685.0" y="131.4" transform="rotate(38 685.0 131.4)" font-size="13.0" fill="rgb(10,10,255)" stroke="rgb(10,10,255)" stroke-width="0.3" text-anchor="middle" dominant-baseline="central">45</text>
<text x="753.9" y="126.4" transform="rotate(55 753.9 126.4)" font-size="13.0" fill="rgb(10,10,255)" stroke="rgb(10,10,255)" stroke-width="0.3" text-anchor="middle" dominant-baseline="central">5</text>
<text x="746.0" y="157.9" transform="rotate(55 746.0 157.9)" font-size="13.0" fill="rgb(10,10,255)" stroke="rgb(10,10,255)" stroke-width="0.3" text-anchor="middle" dominant-baseline="central">5</text>
</g>
<g clip-path="url(#clipC)">
<rect x="52" y="524" width="306" height="348" fill="rgb(255,58,0)"/>
<path d="M52.0 536.4C55.3 536.6 65.3 536.8 72.0 537.6C78.7 538.4 85.3 540.0 91.9 541.0C98.5 542.0 105.1 542.9 111.8 543.9C118.5 544.9 125.2 545.7 131.8 546.9C138.5 548.1 145.0 549.5 151.7 550.9C158.3 552.3 166.4 554.1 171.7 555.5C177.0 556.9 180.9 558.1 183.7 559.5C186.5 560.9 188.3 562.3 188.6 563.9C188.9 565.5 187.8 567.1 185.7 568.9C183.5 570.7 179.0 572.9 175.7 574.9C172.4 576.9 168.4 578.8 165.7 580.9C163.0 583.0 160.9 585.3 159.7 587.8C158.5 590.3 158.0 593.5 158.7 595.8C159.4 598.1 160.9 599.5 163.7 601.8C166.5 604.1 171.0 606.8 175.7 609.8C180.3 612.8 186.9 617.5 191.6 619.8C196.3 622.1 200.3 622.5 204.0 623.8C207.7 625.1 210.7 626.2 214.0 627.7C217.3 629.2 220.6 630.7 223.9 632.7C227.2 634.7 231.1 637.0 233.9 639.7C236.7 642.4 239.7 645.4 240.9 648.7C242.1 652.0 241.6 655.8 240.9 659.6C240.2 663.4 237.9 667.6 236.9 671.6C235.9 675.6 235.0 680.2 234.9 683.6C234.8 687.0 236.0 689.9 236.5 692.0C237.0 694.1 236.7 693.7 237.9 696.0C239.1 698.3 241.6 702.7 243.9 706.0C246.2 709.3 249.2 712.2 251.9 715.9C254.6 719.5 257.6 723.9 259.9 727.9C262.2 731.9 263.8 735.9 265.8 739.9C267.8 743.9 269.8 747.9 271.8 751.9C273.8 755.9 276.3 759.8 277.8 763.8C279.3 767.8 280.3 772.1 280.8 775.8C281.3 779.5 280.3 782.8 280.8 785.8C281.3 788.8 282.0 791.1 283.8 793.7C285.6 796.4 288.8 799.2 291.8 801.7C294.8 804.2 298.4 806.9 301.7 808.7C305.0 810.5 309.0 811.9 311.7 812.7C314.4 813.5 316.9 813.5 318.0 813.7L358 814L358 524L52 524Z" fill="rgb(255,123,0)" />
<path d="M52.0 669.6C53.7 670.1 59.0 671.3 62.0 672.6C65.0 673.9 68.5 675.8 70.0 677.6C71.5 679.4 71.7 681.6 71.0 683.6C70.3 685.6 68.2 688.1 66.0 689.6C63.8 691.1 60.3 691.9 58.0 692.6C55.7 693.3 53.0 693.4 52.0 693.6L45 693L45 669Z" fill="rgb(255,123,0)" />
<path d="M52.0 546.9C55.3 547.2 65.3 548.1 72.0 548.9C78.7 549.7 86.2 550.9 91.9 551.9C97.6 552.9 102.9 553.4 105.9 554.9C108.9 556.4 109.2 558.4 109.8 560.9C110.4 563.4 109.3 566.7 109.8 569.9C110.3 573.1 111.5 576.6 112.8 579.9C114.1 583.2 115.6 586.8 117.8 589.8C120.0 592.8 122.8 595.1 125.8 597.8C128.8 600.5 132.1 603.3 135.8 605.8C139.5 608.3 143.5 610.5 147.8 612.8C152.1 615.1 157.0 617.6 161.7 619.8C166.3 621.9 171.0 623.7 175.7 625.7C180.3 627.7 185.6 629.7 189.6 631.7C193.6 633.7 197.2 636.0 199.6 637.7C202.0 639.4 201.9 640.0 204.0 641.7C206.1 643.4 209.8 645.4 212.0 647.7C214.2 650.0 216.2 652.4 217.0 655.7C217.8 659.0 217.7 663.6 217.0 667.6C216.3 671.6 214.3 675.9 213.0 679.6C211.7 683.3 209.6 687.2 209.0 689.6C208.4 692.0 209.2 692.9 209.5 694.0C209.8 695.1 209.6 694.0 211.0 696.0C212.4 698.0 215.5 702.7 218.0 706.0C220.5 709.3 223.2 712.2 225.9 715.9C228.6 719.5 231.6 723.9 233.9 727.9C236.2 731.9 238.7 735.9 239.9 739.9C241.1 743.9 241.6 748.4 240.9 751.9C240.2 755.4 238.7 758.8 235.9 760.8C233.1 762.8 227.9 763.5 223.9 763.8C219.9 764.1 215.0 763.3 212.0 762.8C209.0 762.3 209.4 761.8 206.0 760.8C202.6 759.8 196.7 758.1 191.6 756.8C186.5 755.5 180.3 754.4 175.7 752.9C171.0 751.4 166.4 749.9 163.7 747.9C161.0 745.9 160.0 743.6 159.7 740.9C159.4 738.2 160.5 735.4 161.7 731.9C162.9 728.4 165.7 723.9 166.7 719.9C167.7 715.9 168.2 712.0 167.7 708.0C167.2 704.0 165.4 698.8 163.7 696.0C162.0 693.2 160.3 693.1 157.7 691.0C155.0 688.9 151.5 686.5 147.8 683.6C144.2 680.7 140.5 676.9 135.8 673.6C131.1 670.3 125.5 666.9 119.8 663.6C114.1 660.3 107.9 656.7 101.9 653.7C95.9 650.7 89.6 648.0 83.9 645.7C78.2 643.4 73.3 641.4 68.0 639.7C62.7 638.0 54.7 636.4 52.0 635.7L45 635L45 546Z" fill="rgb(244,0,0)" />
<path d="M52.0 590.8C52.8 591.3 58.6 594.5 60.0 595.8C61.4 597.1 66.0 602.5 66.0 603.8C66.0 605.1 61.4 608.3 60.0 608.8C58.6 609.3 52.8 608.8 52.0 608.8L45 608L45 590Z" fill="rgb(179,0,0)" />
<path d="M206.0 605.8C207.0 604.8 209.0 601.4 212.0 599.8C215.0 598.2 219.2 597.0 223.9 596.2C228.6 595.4 234.6 594.9 239.9 594.8C245.2 594.7 250.9 594.8 255.9 595.8C260.9 596.8 265.2 599.0 269.8 600.8C274.4 602.6 279.5 605.0 283.8 606.8C288.1 608.6 292.5 610.8 295.8 611.8C299.1 612.8 302.2 613.1 303.7 612.8C305.2 612.5 305.0 611.3 304.7 609.8C304.4 608.3 302.4 606.5 301.7 603.8C301.0 601.1 301.3 596.5 300.7 593.8C300.1 591.1 298.8 589.5 297.8 587.8C296.8 586.1 294.8 584.9 294.8 583.8C294.8 582.6 296.3 581.0 297.8 580.9C299.3 580.8 302.2 581.4 303.7 582.9C305.2 584.4 305.9 587.5 306.7 589.8C307.5 592.1 308.4 595.6 308.7 596.8L358 600L358 792L324.7 791.7C324.5 793.0 325.2 798.2 323.7 799.7C322.2 801.2 318.4 801.0 315.7 800.7C313.0 800.4 310.0 799.2 307.7 797.7C305.4 796.2 303.1 793.7 301.7 791.7C300.2 789.8 299.6 791.0 299.0 786.0C298.4 781.0 299.0 767.2 297.8 762.0C296.6 756.8 293.8 757.5 291.8 754.8C289.8 752.1 287.6 749.0 285.8 745.9C284.0 742.8 282.3 739.2 280.8 735.9C279.3 732.6 278.3 729.2 276.8 725.9C275.3 722.6 274.0 719.2 271.8 715.9C269.6 712.6 266.0 709.0 263.8 706.0C261.6 703.0 260.1 700.4 258.9 698.0C257.6 695.6 256.9 694.7 256.3 691.6C255.7 688.5 255.2 683.6 255.5 679.6C255.8 675.6 257.2 671.6 257.9 667.6C258.6 663.6 259.7 659.4 259.9 655.7C260.1 652.1 259.9 649.0 258.9 645.7C257.9 642.4 256.4 638.7 253.9 635.7C251.4 632.7 247.2 629.7 243.9 627.7C240.6 625.7 237.6 625.0 233.9 623.7C230.2 622.4 225.7 621.4 222.0 619.8C218.3 618.1 213.7 614.8 212.0 613.8Z" fill="rgb(255,191,0)" />
<path d="M296.0 763.0C297.9 761.6 302.3 757.5 303.7 755.8C305.1 754.1 308.5 747.4 309.7 745.9C310.9 744.4 314.5 741.4 315.7 740.9C316.9 740.4 321.6 740.2 322.1 740.9C322.6 741.6 321.4 746.2 321.1 747.9C320.8 749.6 319.4 755.6 319.1 757.8C318.8 760.0 318.3 767.4 318.3 769.8C318.3 772.2 319.1 779.6 318.9 781.8C318.7 784.0 316.9 790.5 316.1 791.7C315.3 792.9 312.3 794.1 311.3 794.1C310.3 794.1 306.7 791.7 305.7 791.3C304.7 790.9 301.8 790.7 301.3 790.0C300.8 789.3 301.4 784.6 300.9 784.0C300.4 783.4 297.6 783.0 296.5 783.6C295.4 784.2 291.1 791.4 290.0 790.0C288.9 788.6 284.4 772.7 285.0 770.0C285.6 767.3 294.1 764.4 296.0 763.0Z" fill="rgb(255,123,0)" />
<path d="M278.8 631.7C279.6 630.2 281.3 629.2 283.8 628.7C286.3 628.2 289.8 627.7 293.8 628.7C297.8 629.7 303.4 632.2 307.7 634.7C312.0 637.2 316.5 640.5 319.7 643.7C322.9 646.9 325.5 650.4 326.7 653.7C327.9 657.0 327.5 660.3 326.7 663.6C325.9 666.9 324.2 670.3 321.7 673.6C319.2 676.9 315.0 680.8 311.7 683.6C308.4 686.4 305.0 689.3 301.7 690.6C298.4 691.9 294.6 692.4 291.8 691.6C289.0 690.8 286.5 688.6 284.8 685.6C283.1 682.6 282.1 677.9 281.8 673.6C281.5 669.3 283.0 663.9 282.8 659.6C282.6 655.3 281.5 651.4 280.8 647.7C280.1 644.1 279.1 640.4 278.8 637.7C278.5 635.0 278.0 633.2 278.8 631.7Z" fill="rgb(255,255,7)" />
<path d="M340.6 694.0L347.8 690.5L347.8 697.0L343.0 699.0Z" fill="rgb(255,255,7)" />
<path d="M271.3 524.4C271.7 525.2 273.8 527.8 273.8 529.0C273.8 530.2 271.0 530.6 271.3 531.5C271.6 532.4 274.1 533.6 275.7 534.6C277.3 535.6 279.1 536.2 280.7 537.7C282.2 539.2 283.7 541.6 285.0 543.9C286.3 546.2 287.4 548.7 288.7 551.4C289.9 554.1 291.2 557.6 292.5 560.1C293.8 562.6 295.1 564.0 296.2 566.3C297.3 568.6 298.2 571.4 299.3 573.7C300.4 576.0 301.6 577.7 303.0 580.0C304.4 582.3 306.5 585.4 307.4 587.4C308.3 589.4 307.6 590.1 308.3 591.8C309.0 593.5 310.1 595.6 311.7 597.4C313.3 599.1 315.5 600.6 318.0 602.3C320.5 603.9 323.8 605.7 326.7 607.3C329.6 608.9 332.9 610.3 335.4 611.7C337.9 613.1 339.6 614.2 341.6 615.6C343.7 617.0 346.0 618.7 347.7 620.1C349.4 621.5 350.9 622.3 351.8 624.2C352.7 626.1 353.0 628.5 353.3 631.4C353.6 634.3 353.9 638.2 353.9 641.6C353.9 645.0 353.8 648.8 353.3 651.9C352.8 655.0 351.1 657.9 350.8 660.1C350.5 662.3 351.5 663.0 351.3 665.2C351.1 667.4 350.0 670.7 349.8 673.4C349.6 676.1 350.5 679.2 350.3 681.6C350.1 684.0 349.3 685.3 348.7 687.7C348.1 690.1 347.4 693.3 346.7 695.9C346.0 698.5 345.1 701.4 344.6 703.1C344.1 704.8 343.5 705.0 343.6 706.2C343.7 707.4 345.1 708.7 345.2 710.3C345.3 711.9 344.6 714.0 344.3 716.0C344.0 718.0 343.5 719.8 343.5 722.0C343.5 724.2 344.7 726.8 344.5 729.0C344.3 731.2 342.9 733.0 342.2 735.0C341.5 737.0 341.1 738.8 340.5 741.0C339.9 743.2 339.1 745.7 338.3 748.0C337.5 750.3 336.4 752.8 335.5 755.0C334.6 757.2 333.9 759.2 333.1 761.0C332.3 762.8 331.2 764.7 330.5 766.0C329.8 767.3 328.9 767.8 328.6 769.0C328.4 770.2 328.5 771.3 329.0 773.0C329.5 774.7 331.4 776.8 331.5 779.0C331.6 781.2 330.6 783.7 329.8 786.0C329.0 788.3 327.6 790.7 326.9 793.0C326.2 795.3 325.9 798.8 325.7 800.0L358 800.0L358 524.0Z" fill="rgb(211,211,211)" />
<rect x="273.2" y="531.7" width="9.3" height="12.8" fill="rgb(211,211,211)"/>
<rect x="282.0" y="544.5" width="7.5" height="15.1" fill="rgb(211,211,211)"/>
<rect x="289.0" y="559.6" width="8.0" height="7.0" fill="rgb(211,211,211)"/>
<rect x="298.0" y="575.6" width="6.0" height="5.6" fill="rgb(211,211,211)"/>
<rect x="306.0" y="591.8" width="5.0" height="5.6" fill="rgb(211,211,211)"/>
<rect x="341.6" y="616.6" width="6.4" height="5.6" fill="rgb(211,211,211)"/>
<rect x="348.7" y="622.0" width="6.3" height="38.0" fill="rgb(211,211,211)"/>
<path d="M348.5 696.0L345.5 696.0L345.5 699.0L341.2 699.0L341.2 748.5L332.5 748.5L332.5 764.7L324.4 764.7L324.4 801.0L322.0 801.0L322.0 808.0L315.2 808.0L315.2 846.3L306.6 846.3L306.6 872.0L358.0 872.0L358.0 696.0Z" fill="rgb(211,211,211)" />
<path d="M271.3 524.4C271.7 525.2 273.8 527.8 273.8 529.0C273.8 530.2 271.0 530.6 271.3 531.5C271.6 532.4 274.1 533.6 275.7 534.6C277.3 535.6 279.1 536.2 280.7 537.7C282.2 539.2 283.7 541.6 285.0 543.9C286.3 546.2 287.4 548.7 288.7 551.4C289.9 554.1 291.2 557.6 292.5 560.1C293.8 562.6 295.1 564.0 296.2 566.3C297.3 568.6 298.2 571.4 299.3 573.7C300.4 576.0 301.6 577.7 303.0 580.0C304.4 582.3 306.5 585.4 307.4 587.4C308.3 589.4 307.6 590.1 308.3 591.8C309.0 593.5 310.1 595.6 311.7 597.4C313.3 599.1 315.5 600.6 318.0 602.3C320.5 603.9 323.8 605.7 326.7 607.3C329.6 608.9 332.9 610.3 335.4 611.7C337.9 613.1 339.6 614.2 341.6 615.6C343.7 617.0 346.0 618.7 347.7 620.1C349.4 621.5 350.9 622.3 351.8 624.2C352.7 626.1 353.0 628.5 353.3 631.4C353.6 634.3 353.9 638.2 353.9 641.6C353.9 645.0 353.8 648.8 353.3 651.9C352.8 655.0 351.1 657.9 350.8 660.1C350.5 662.3 351.5 663.0 351.3 665.2C351.1 667.4 350.0 670.7 349.8 673.4C349.6 676.1 350.5 679.2 350.3 681.6C350.1 684.0 349.3 685.3 348.7 687.7C348.1 690.1 347.4 693.3 346.7 695.9C346.0 698.5 345.1 701.4 344.6 703.1C344.1 704.8 343.5 705.0 343.6 706.2C343.7 707.4 345.1 708.7 345.2 710.3C345.3 711.9 344.6 714.0 344.3 716.0C344.0 718.0 343.5 719.8 343.5 722.0C343.5 724.2 344.7 726.8 344.5 729.0C344.3 731.2 342.9 733.0 342.2 735.0C341.5 737.0 341.1 738.8 340.5 741.0C339.9 743.2 339.1 745.7 338.3 748.0C337.5 750.3 336.4 752.8 335.5 755.0C334.6 757.2 333.9 759.2 333.1 761.0C332.3 762.8 331.2 764.7 330.5 766.0C329.8 767.3 328.9 767.8 328.6 769.0C328.4 770.2 328.5 771.3 329.0 773.0C329.5 774.7 331.4 776.8 331.5 779.0C331.6 781.2 330.6 783.7 329.8 786.0C329.0 788.3 327.6 790.7 326.9 793.0C326.2 795.3 325.9 798.8 325.7 800.0" fill="none" stroke="#000" stroke-width="2.0" stroke-linejoin="round" stroke-linecap="butt" />
<path d="M324.6 801.0L331.1 800.2L330.3 805.9L328.3 812.1L322.5 813.3L323.4 806.8Z" fill="none" stroke="#000" stroke-width="1.4" stroke-linejoin="round" stroke-linecap="butt" />
<path d="M326.5 803.5L328.5 805.0L326.3 807.0L327.8 809.0L325.5 810.8" fill="none" stroke="#000" stroke-width="1.1" stroke-linejoin="round" stroke-linecap="butt" />
<path d="M331.1 800.2L334.0 799.0L337.7 799.4L336.2 801.5L337.2 804.3L335.0 805.5L335.4 808.4L333.2 810.0L333.8 812.5L332.8 814.9L333.5 817.0L331.6 819.9L334.0 820.5L335.6 822.3L333.5 824.5L334.0 827.2L331.5 827.5L329.5 828.9" fill="none" stroke="#000" stroke-width="1.5" stroke-linejoin="round" stroke-linecap="butt" />
<path d="M323.7 816.5L322.6 817.7L321.9 818.9L322.0 820.1L321.5 821.3L320.9 822.5L321.5 823.7L320.3 824.9L320.3 826.1L321.5 827.3L321.0 828.5L319.7 829.7L320.8 830.9L320.4 832.1L320.7 833.3L320.3 834.5L321.1 835.7L320.3 836.9L325.2 837.1L325.7 836.1L326.9 834.8L327.7 833.1L327.3 831.9L327.4 830.8L326.9 829.5L327.6 828.5L327.4 827.4L327.5 825.9L329.1 824.7L328.3 824.1L328.9 822.9L329.5 821.0L327.8 819.8L328.3 818.5L328.1 817.6L327.0 816.6Z" fill="#000" />
<path d="M326.0 817.0L324.1 817.2L321.5 818.4L323.0 819.0L325.1 818.3L326.1 819.1L326.6 819.2L328.5 821.7L328.4 822.8L325.9 824.1L326.7 826.8L328.5 826.0L327.9 827.2L325.2 827.3L323.3 825.6L320.9 827.2L320.0 826.2L322.1 824.4L321.8 824.9L323.9 826.8L326.0 826.0L325.5 825.6L327.6 828.1L325.7 826.8L324.2 825.7L324.1 826.5L322.8 824.2L322.3 823.9L322.7 826.4L323.8 826.8L324.4 828.0L321.9 830.2L323.5 832.4L325.1 832.2L324.6 830.4L325.3 828.5L322.9 827.3L321.0 826.8L319.8 824.6L319.7 824.1L321.8 825.0L319.8 824.0L319.9 823.6L321.8 826.4L321.7 826.6L320.1 824.9L319.6 826.8L319.8 829.4L319.0 829.9L319.2 832.5L321.2 833.8L319.9 833.4L319.1 835.1L320.7 834.5L319.1 836.3L321.9 835.4L323.6 836.9L322.1 836.3L319.5 834.2L319.6 833.3L322.1 833.3" fill="none" stroke="#000" stroke-width="1.3" stroke-linejoin="round" stroke-linecap="butt" />
<path d="M329.0 822.0L331.5 821.0L333.5 823.0" fill="none" stroke="#000" stroke-width="1.4" stroke-linejoin="round" stroke-linecap="butt" />
<path d="M328.0 829.0L330.5 828.0L332.5 829.5" fill="none" stroke="#000" stroke-width="1.4" stroke-linejoin="round" stroke-linecap="butt" />
<path d="M321.0 832.5L318.5 834.0L316.4 835.4L314.0 836.5L312.3 838.7L313.5 840.6L316.0 839.6L319.7 838.7L321.0 840.0L322.1 841.2L321.0 843.0L321.3 844.5" fill="none" stroke="#000" stroke-width="1.9" stroke-linejoin="round" stroke-linecap="butt" />
<path d="M316.5 845.5L314.1 846.8L312.8 848.1L314.6 849.4L314.0 850.7L314.0 852.0L314.3 853.3L314.4 854.6L314.9 855.9L314.9 857.2L312.8 858.5L314.6 859.8L315.1 861.1L314.0 862.4L315.1 863.7L315.0 865.0L314.8 866.3L313.4 867.6L313.3 868.9L315.1 870.2L314.2 871.5L328.7 871.4L327.2 870.2L327.3 868.6L326.9 867.7L326.8 866.1L327.3 865.3L327.8 863.7L326.5 862.0L327.8 861.0L326.5 860.1L326.4 858.8L327.9 856.9L327.0 855.8L326.8 854.8L327.2 853.0L328.3 852.2L328.0 850.4L328.1 849.4L326.4 848.2L325.5 846.6L326.4 845.9Z" fill="#000" />
<path d="M320.2 846.0L322.6 846.3L322.8 846.7L320.1 846.7L318.3 846.8L316.5 846.9L317.7 847.5L316.7 847.9L317.1 849.6L314.9 850.2L313.4 849.3L315.0 849.7L315.3 851.2L317.6 851.2L318.3 851.5L318.3 852.8L318.1 853.2L317.9 855.8L319.0 857.9L321.5 857.0L321.9 859.5L323.8 858.0L321.6 858.0L319.3 856.9L316.9 858.1L318.5 860.3L316.5 861.7L317.4 860.2L319.6 862.8L318.0 865.4L317.4 865.6L320.2 867.6L318.3 867.5L318.4 867.0L316.6 866.3L317.9 864.2L318.2 864.2L315.5 863.6L316.2 863.9L313.7 866.7L315.4 869.3L313.7 868.4L315.3 867.5L315.0 867.4L316.8 866.5L314.8 868.9L315.2 870.2L314.7 868.2L314.3 866.3L316.7 867.3L318.4 865.5L320.4 863.6L322.5 863.6L321.6 864.2L323.9 863.3L321.9 863.7L320.4 862.0L318.5 860.0L316.8 859.4L315.7 861.0L314.6 861.2L313.5 860.7L314.5 858.6L314.8 857.3L314.6 859.8L314.1 861.7L314.1 863.6L314.6 863.9L317.3 863.4L319.1 864.7L319.9 864.5L319.0 862.6L317.0 860.7L318.3 859.7L316.4 857.9L318.3 860.1L319.3 859.3L317.9 858.5L317.6 857.0L317.3 856.1L319.9 858.8L320.2 857.8L322.8 857.1L322.0 854.9L321.3 855.0L321.3 853.8L321.4 851.6L320.0 849.8L319.5 847.8L316.8 847.1L315.3 847.8L315.5 849.3L316.3 850.7L318.5 850.4L317.5 853.1L315.5 854.5L316.3 852.5L318.2 854.8L318.9 856.2L320.7 854.7L320.8 855.0L322.7 856.8L324.5 857.5L326.7 858.7L327.8 857.6L325.2 856.1L324.4 854.4L326.3 854.9L327.0 855.8L327.8 856.1L327.1 857.6L327.3 858.7L324.9 860.2L323.5 858.3L322.2 859.7L320.5 861.2L323.2 861.5L322.5 861.6L323.5 863.3L324.2 864.3L321.8 862.8" fill="none" stroke="#000" stroke-width="1.4" stroke-linejoin="round" stroke-linecap="butt" />
<path d="M324.0 847.0L328.7 848.6L325.5 850.5" fill="none" stroke="#000" stroke-width="1.7" stroke-linejoin="round" stroke-linecap="butt" />
<ellipse cx="318.3" cy="864.6" rx="0.5" ry="0.9" fill="rgb(211,211,211)"/>
<ellipse cx="316.1" cy="850.3" rx="0.5" ry="1.0" fill="rgb(211,211,211)"/>
<ellipse cx="322.2" cy="863.2" rx="0.5" ry="0.9" fill="rgb(211,211,211)"/>
<ellipse cx="320.2" cy="858.8" rx="0.4" ry="1.1" fill="rgb(211,211,211)"/>
<ellipse cx="317.8" cy="869.5" rx="0.8" ry="0.5" fill="rgb(211,211,211)"/>
<ellipse cx="320.1" cy="866.2" rx="0.8" ry="0.8" fill="rgb(211,211,211)"/>
<ellipse cx="318.4" cy="853.4" rx="0.8" ry="0.6" fill="rgb(211,211,211)"/>
<ellipse cx="321.2" cy="852.0" rx="0.6" ry="1.2" fill="rgb(211,211,211)"/>
<ellipse cx="317.2" cy="866.2" rx="0.6" ry="1.1" fill="rgb(211,211,211)"/>
<ellipse cx="322.3" cy="853.9" rx="0.8" ry="0.8" fill="rgb(211,211,211)"/>
<circle cx="319.3" cy="815.4" r="1.0" fill="#000"/>
<circle cx="316.8" cy="824.8" r="1.0" fill="#000"/>
<ellipse cx="59" cy="690.6" rx="1.4" ry="1.2" fill="#000"/>
<ellipse cx="288.4" cy="739.9" rx="1.5" ry="1.1" fill="#000"/>
<path d="M60.0 555.9C63.0 556.3 71.9 557.1 77.9 558.3C83.9 559.5 90.6 561.4 95.9 562.9C101.2 564.4 105.5 565.9 109.8 567.5C114.1 569.1 119.8 571.7 121.8 572.5" fill="none" stroke="#111" stroke-width="1.75" stroke-linejoin="round" stroke-linecap="butt" />
<path d="M150.7 586.8C153.2 588.0 160.5 591.5 165.7 593.8C170.9 596.1 176.7 598.8 181.7 600.8C186.7 602.8 191.9 604.6 195.6 605.8C199.3 607.0 200.6 606.8 204.0 607.8C207.4 608.8 211.7 610.3 216.0 611.8C220.3 613.3 225.2 615.0 229.9 616.8C234.6 618.6 239.9 620.7 243.9 622.7C247.9 624.7 251.5 626.5 253.9 628.7C256.3 630.9 257.8 633.2 258.3 635.7C258.8 638.2 258.3 641.0 256.9 643.7C255.5 646.4 252.7 649.1 249.9 651.7C247.1 654.4 243.6 657.0 239.9 659.6C236.2 662.2 231.9 664.8 227.9 667.6C223.9 670.4 219.7 673.9 216.0 676.6C212.3 679.3 209.1 680.8 206.0 683.6C202.9 686.4 200.0 690.7 197.6 693.6C195.2 696.5 193.6 698.4 191.6 701.0C189.6 703.6 188.3 706.0 185.7 709.0C183.0 712.0 179.4 716.1 175.7 718.9C172.0 721.6 168.7 723.5 163.7 725.5C158.7 727.5 152.1 729.3 145.8 730.9C139.5 732.5 132.8 733.7 125.8 734.9C118.8 736.1 111.2 737.1 103.9 737.9C96.6 738.7 89.2 739.1 81.9 739.5C74.6 739.9 63.6 740.2 60.0 740.3" fill="none" stroke="#111" stroke-width="1.75" stroke-linejoin="round" stroke-linecap="butt" />
<path d="M60.0 570.3C62.3 571.3 68.9 573.9 73.9 576.3C78.9 578.7 84.6 581.9 89.9 584.8C95.2 587.7 101.2 591.4 105.9 593.8C110.6 596.2 114.0 597.8 117.8 599.4C121.6 601.0 127.0 602.7 128.8 603.4" fill="none" stroke="#111" stroke-width="2.1" stroke-dasharray="7.5 3.2" stroke-linejoin="round" stroke-linecap="butt" />
<path d="M160.7 616.2C163.2 617.1 170.9 619.6 175.7 621.7C180.5 623.8 185.8 626.2 189.6 628.7C193.4 631.2 196.6 633.5 198.6 636.7C200.6 639.9 201.6 643.9 201.6 647.7C201.6 651.5 200.6 655.8 198.6 659.6C196.6 663.4 193.1 666.9 189.6 670.6C186.1 674.3 181.7 678.1 177.7 681.6C173.7 685.1 169.2 688.6 165.7 691.6C162.2 694.6 159.4 697.6 156.7 699.5C154.0 701.4 153.2 701.4 149.7 703.0C146.2 704.6 141.1 707.2 135.8 709.0C130.5 710.8 124.1 712.6 117.8 714.0C111.5 715.4 104.6 716.5 97.9 717.5C91.2 718.5 84.2 719.3 77.9 719.9C71.6 720.5 63.0 720.7 60.0 720.9" fill="none" stroke="#111" stroke-width="2.1" stroke-dasharray="7.5 3.2" stroke-linejoin="round" stroke-linecap="butt" />
<path d="M237.9 526L242.9 528" fill="none" stroke="#111" stroke-width="2.1" stroke-linejoin="round" stroke-linecap="butt" />
<path d="M270.8 546.9C272.0 547.2 276.1 547.2 277.8 548.9C279.5 550.6 280.3 555.6 280.8 556.9" fill="none" stroke="#111" stroke-width="2.1" stroke-linejoin="round" stroke-linecap="butt" />
<path d="M287.8 565.5C288.3 566.3 289.5 569.4 291.0 570.5C292.5 571.6 295.8 571.7 296.8 571.9" fill="none" stroke="#111" stroke-width="2.1" stroke-linejoin="round" stroke-linecap="butt" />
<text x="136.8" y="578.3" transform="rotate(20 136.8 578.3)" font-size="17.5" fill="#111" stroke="#111" stroke-width="0.3" text-anchor="middle" dominant-baseline="central">15</text>
<text x="145.8" y="606.8" transform="rotate(17 145.8 606.8)" font-size="17.5" fill="#111" stroke="#111" stroke-width="0.3" text-anchor="middle" dominant-baseline="central">15</text>
<text x="257.9" y="534.0" transform="rotate(25 257.9 534.0)" font-size="17.5" fill="#111" stroke="#111" stroke-width="0.3" text-anchor="middle" dominant-baseline="central">15</text>
</g>
<g clip-path="url(#clipD)">
<rect x="474" y="524" width="295" height="348" fill="rgb(244,0,0)"/>
<path d="M474.0 647.7C477.3 647.2 487.4 645.4 494.0 644.7C500.6 644.0 507.3 643.8 513.9 643.7C520.5 643.6 528.1 643.4 533.8 644.1C539.4 644.8 543.5 645.9 547.8 647.7C552.1 649.5 555.5 652.1 559.8 654.7C564.1 657.4 568.7 661.2 573.7 663.6C578.7 666.0 583.7 668.0 589.7 669.2C595.7 670.4 603.3 670.5 609.7 670.6C616.1 670.7 623.0 669.9 628.0 669.6C633.0 669.3 634.5 669.2 639.7 668.7C644.9 668.2 654.0 667.1 659.4 666.7C664.8 666.3 667.7 666.2 672.0 666.1C676.3 666.0 680.7 665.9 685.0 665.8C689.3 665.7 693.6 665.5 697.9 665.4C702.2 665.3 707.0 665.1 710.9 665.0C714.8 664.9 718.0 665.0 721.2 664.5C724.4 664.0 727.3 663.2 730.3 662.2C733.3 661.2 736.8 659.4 739.4 658.5C742.0 657.6 743.6 657.1 745.8 657.0C747.9 656.9 750.3 657.2 752.3 657.6C754.2 658.0 755.9 658.8 757.5 659.3C759.1 659.8 761.2 660.1 762.0 660.3L770 660L770 872L474 872Z" fill="rgb(179,0,0)" />
<path d="M474.0 717.1C477.2 717.5 486.9 719.1 493.3 719.8C499.7 720.4 506.2 720.9 512.6 721.0C519.0 721.1 525.5 721.0 531.9 720.6C538.3 720.2 544.8 719.5 551.2 718.7C557.6 717.9 564.1 717.0 570.5 716.0C576.9 715.0 583.4 713.9 589.8 712.9C596.2 711.9 602.7 711.1 609.1 710.2C615.5 709.3 622.0 708.2 628.4 707.5C634.8 706.8 641.3 706.2 647.7 705.9C654.1 705.6 660.6 705.6 667.0 705.5C673.4 705.4 679.9 705.5 686.3 705.5C692.7 705.5 699.2 705.5 705.6 705.2C712.0 704.9 718.5 704.5 724.9 703.6C731.3 702.8 739.4 701.2 744.2 700.1C749.0 699.0 751.3 698.6 753.9 696.7C756.5 694.9 758.4 691.0 759.7 689.0C761.1 687.0 761.6 685.7 762.0 685.0L770 685L770 872L474 872Z" fill="rgb(110,0,0)" />
<path d="M474.0 816.3C477.2 816.0 486.9 815.2 493.3 814.4C499.7 813.6 506.2 812.7 512.6 811.7C519.0 810.7 525.5 809.9 531.9 808.6C538.3 807.3 544.8 805.6 551.2 804.0C557.6 802.4 564.1 800.5 570.5 799.0C576.9 797.5 583.4 796.1 589.8 795.1C596.2 794.1 602.7 793.7 609.1 793.2C615.5 792.8 622.0 792.5 628.4 792.4C634.8 792.3 641.3 792.4 647.7 792.4C654.1 792.4 660.6 792.7 667.0 792.4C673.4 792.1 679.9 791.2 686.3 790.5C692.7 789.8 699.2 789.0 705.6 788.2C712.0 787.4 719.8 786.2 724.9 785.8C730.0 785.4 732.3 784.9 736.5 785.8C740.7 786.7 746.1 791.2 750.0 791.2C753.9 791.2 757.7 786.9 759.7 785.5C761.7 784.1 761.6 783.4 762.0 783.0L770 783L770 872L474 872Z" fill="rgb(42,0,0)" />
<path d="M474.0 622.1C477.3 621.6 487.4 620.6 494.0 619.4C500.6 618.2 507.3 616.6 513.9 614.8C520.5 613.0 527.8 610.8 533.8 608.8C539.8 606.8 545.1 604.8 549.8 602.8C554.5 600.8 557.8 599.3 561.8 596.8C565.8 594.3 570.4 590.9 573.7 587.8C577.0 584.6 579.9 581.2 581.7 577.9C583.5 574.6 584.5 570.9 584.7 567.9C584.9 564.9 584.2 562.6 582.7 559.9C581.2 557.2 577.9 554.6 575.7 551.9C573.6 549.2 570.4 546.9 569.8 543.9C569.2 540.9 571.8 537.3 572.1 534.0C572.4 530.7 571.8 525.7 571.7 524.0L474 524Z" fill="rgb(255,58,0)" />
<path d="M474.0 572.9C476.0 573.0 482.0 572.8 486.0 573.5C490.0 574.2 495.1 575.7 497.9 576.9C500.7 578.1 502.9 579.2 502.9 580.9C502.9 582.5 500.7 585.0 497.9 586.8C495.1 588.6 490.0 590.6 486.0 591.8C482.0 593.0 476.0 593.5 474.0 593.8L470 593L470 572Z" fill="rgb(255,123,0)" />
<path d="M672.2 524.0C672.4 525.3 672.1 528.7 673.2 531.9C674.4 535.1 678.7 540.0 679.1 543.4C679.5 546.8 676.9 549.2 675.9 552.0C674.9 554.8 674.3 557.8 672.9 560.0C671.5 562.2 669.9 563.2 667.7 565.2C665.5 567.2 662.7 569.7 659.9 571.7C657.1 573.8 653.9 575.6 650.9 577.5C647.9 579.4 644.8 581.4 641.8 583.3C638.8 585.2 635.7 587.0 632.7 589.1C629.7 591.2 626.5 593.3 623.7 595.6C620.9 597.9 618.1 600.2 615.9 602.7C613.7 605.2 611.8 607.9 610.7 610.5C609.6 613.1 609.3 615.7 609.4 618.3C609.5 620.9 610.3 623.7 611.4 626.1C612.5 628.5 613.8 630.5 615.9 632.5C618.0 634.5 620.7 636.8 623.7 638.4C626.7 640.0 630.1 641.2 634.0 641.9C637.9 642.5 642.2 642.3 647.0 642.3C651.8 642.2 658.3 641.9 662.5 641.6C666.7 641.4 668.2 641.0 672.0 640.8C675.8 640.6 680.7 640.4 685.0 640.2C689.3 640.0 693.6 639.8 697.9 639.5C702.2 639.2 706.6 639.0 710.9 638.6C715.2 638.2 719.9 637.7 723.8 636.9C727.7 636.1 731.2 634.9 734.2 633.9C737.2 632.9 739.5 631.4 741.9 630.8C744.3 630.2 746.4 629.9 748.4 630.4C750.4 630.9 752.1 632.7 753.6 633.9C755.1 635.1 756.1 636.8 757.5 637.6C758.9 638.5 761.2 638.8 762.0 639.0L770 639L770 524Z" fill="rgb(255,58,0)" />
<path d="M705.0 524.0C705.2 525.3 705.9 529.2 706.3 531.8C706.7 534.4 707.8 537.1 707.6 539.5C707.4 541.9 706.3 543.8 705.0 546.0C703.7 548.2 701.8 550.1 699.8 552.5C697.8 554.9 695.2 557.7 692.7 560.3C690.2 562.9 687.4 565.6 685.0 568.0C682.6 570.4 680.1 573.0 678.5 574.5C676.9 576.0 677.5 575.5 675.5 576.8C673.5 578.0 669.4 580.2 666.4 582.0C663.4 583.8 660.4 585.8 657.4 587.8C654.4 589.8 650.7 592.0 648.3 594.3C645.9 596.6 644.1 599.2 643.1 601.5C642.1 603.8 642.1 605.8 642.5 607.9C642.9 610.0 644.1 612.6 645.7 614.4C647.3 616.2 649.4 617.6 652.2 618.9C655.0 620.1 658.6 621.3 662.5 621.9C666.4 622.5 670.9 622.4 675.5 622.4C680.1 622.4 685.5 622.2 690.0 621.9C694.5 621.6 698.6 621.1 702.7 620.5C706.8 619.9 711.2 619.1 714.7 618.3C718.2 617.5 720.8 616.5 723.8 615.5C726.8 614.5 729.9 613.4 732.9 612.5C735.9 611.6 739.3 610.4 741.9 610.4C744.5 610.4 746.2 611.2 748.4 612.4C750.6 613.6 752.6 615.7 754.9 617.4C757.2 619.1 760.8 621.6 762.0 622.4L770 622L770 524Z" fill="rgb(255,123,0)" />
<path d="M721.9 524.0C722.1 525.3 722.9 529.2 723.2 531.8C723.5 534.4 724.2 537.1 723.8 539.5C723.4 541.9 722.1 544.0 720.6 546.0C719.1 548.0 717.0 549.8 714.7 551.8C712.4 553.8 709.8 556.0 707.0 558.3C704.2 560.6 700.9 563.1 697.9 565.5C694.9 567.9 691.2 570.6 688.8 572.6C686.4 574.6 685.5 575.8 683.3 577.5C681.1 579.2 677.9 581.0 675.5 582.7C673.1 584.4 670.5 586.0 669.0 587.8C667.5 589.6 666.4 591.8 666.4 593.7C666.4 595.7 667.5 597.9 669.0 599.5C670.5 601.1 672.8 602.4 675.5 603.4C678.2 604.4 681.3 605.3 685.0 605.6C688.7 605.9 693.6 605.4 697.9 605.0C702.2 604.6 706.6 603.8 710.9 603.0C715.2 602.2 719.9 601.4 723.8 600.4C727.7 599.4 731.2 598.1 734.2 597.2C737.2 596.3 739.5 595.3 741.9 595.2C744.3 595.1 746.2 595.4 748.4 596.5C750.6 597.6 752.6 600.0 754.9 601.7C757.2 603.4 760.8 606.0 762.0 606.9L770 607L770 524Z" fill="rgb(255,191,0)" />
<path d="M732.2 524.0C732.5 525.3 733.6 529.2 734.2 531.8C734.9 534.4 736.3 537.1 736.1 539.5C735.9 541.9 734.5 544.0 732.9 546.0C731.3 548.0 729.0 549.8 726.4 551.8C723.8 553.8 720.5 556.0 717.3 558.3C714.1 560.6 710.5 563.0 707.0 565.5C703.5 568.0 699.6 570.8 696.6 573.2C693.6 575.6 690.3 577.8 688.8 579.7C687.3 581.7 687.1 583.2 687.5 584.9C687.9 586.6 689.2 588.8 691.4 590.1C693.6 591.4 696.8 592.4 700.5 592.7C704.2 593.0 709.2 592.5 713.5 592.0C717.8 591.5 722.5 590.4 726.4 589.4C730.3 588.4 733.8 587.2 736.8 586.2C739.8 585.2 742.1 583.9 744.5 583.6C746.9 583.3 749.0 583.5 751.0 584.2C753.0 585.0 754.4 586.9 756.2 588.1C758.0 589.3 761.0 590.9 762.0 591.4L770 591L770 524Z" fill="rgb(255,255,7)" />
<path d="M741.3 524.0C741.6 525.3 742.7 529.2 743.2 531.8C743.7 534.4 744.7 537.1 744.5 539.5C744.3 541.9 743.2 544.0 741.9 546.0C740.6 548.0 738.9 549.4 736.8 551.2C734.6 553.0 731.8 555.0 729.0 557.0C726.2 559.0 722.7 561.2 719.9 563.5C717.1 565.8 713.8 568.6 712.2 570.6C710.6 572.6 710.0 573.8 710.2 575.2C710.4 576.6 711.7 578.4 713.5 579.1C715.3 579.9 718.4 580.0 721.2 579.7C724.0 579.4 727.3 578.1 730.3 577.1C733.3 576.1 736.6 574.6 739.4 573.9C742.2 573.1 744.7 572.4 747.1 572.6C749.5 572.8 751.1 574.0 753.6 575.2C756.1 576.4 760.6 579.0 762.0 579.7L770 580L770 524Z" fill="rgb(255,255,105)" />
<path d="M751.0 524.0C751.2 525.3 752.0 529.2 752.3 531.8C752.6 534.4 753.2 537.1 753.0 539.5C752.8 541.9 752.0 544.0 751.0 546.0C750.0 548.0 748.5 549.5 747.1 551.2C745.7 552.9 743.6 554.7 742.6 556.4C741.6 558.1 741.0 560.2 741.3 561.6C741.6 563.0 742.9 564.1 744.5 564.8C746.1 565.4 749.0 565.3 751.0 565.5C753.0 565.7 754.4 565.7 756.2 566.1C758.0 566.5 761.0 567.7 762.0 568.0L770 568L770 524Z" fill="rgb(255,255,208)" />
<path d="M762.0 535.2C761.2 535.9 758.8 537.7 757.5 539.5C756.2 541.3 754.9 543.8 754.3 546.0C753.6 548.2 753.3 550.5 753.6 552.5C753.9 554.5 754.8 556.2 756.2 557.7C757.6 559.2 761.0 561.1 762.0 561.8Z" fill="rgb(255,255,255)" />
<rect x="761.1" y="524" width="8" height="348" fill="rgb(211,211,211)"/>
<path d="M474.0 611.8C477.3 611.5 487.4 610.9 494.0 610.2C500.6 609.5 507.3 608.8 513.9 607.8C520.5 606.8 527.1 605.5 533.8 604.2C540.4 602.9 547.1 601.7 553.8 600.2C560.4 598.7 567.1 597.0 573.7 595.4C580.4 593.8 587.7 592.2 593.7 590.8C599.7 589.4 605.8 588.0 609.7 587.1C613.6 586.2 616.0 585.6 617.2 585.3" fill="none" stroke="#111" stroke-width="2.1" stroke-dasharray="7.5 3.2" stroke-linejoin="round" stroke-linecap="butt" />
<path d="M652.2 576.2C655.5 575.5 666.5 573.3 672.0 571.9C677.5 570.5 680.7 569.2 685.0 568.0C689.3 566.8 693.6 565.8 697.9 564.8C702.2 563.8 706.6 563.2 710.9 562.2C715.2 561.2 719.9 560.2 723.8 559.0C727.7 557.8 731.2 556.6 734.2 555.1C737.2 553.6 739.3 551.5 741.9 549.9C744.5 548.3 747.3 546.4 749.7 545.4C752.1 544.4 754.3 544.4 756.2 544.1C758.1 543.8 760.1 543.8 760.9 543.8" fill="none" stroke="#111" stroke-width="2.1" stroke-dasharray="7.5 3.2" stroke-linejoin="round" stroke-linecap="butt" />
<path d="M474.0 622.1C477.3 621.6 487.4 620.5 494.0 619.4C500.6 618.3 507.3 616.8 513.9 615.4C520.5 614.0 527.1 612.6 533.8 611.2C540.4 609.8 547.1 608.2 553.8 606.8C560.4 605.4 567.7 603.8 573.7 602.8C579.7 601.8 585.4 601.4 589.7 600.6C594.0 599.8 598.0 598.6 599.7 598.2" fill="none" stroke="#111" stroke-width="1.75" stroke-linejoin="round" stroke-linecap="butt" />
<path d="M634.0 589.5C636.8 588.8 649.7 585.4 654.8 584.6C659.9 583.8 668.0 583.6 672.0 583.3C676.0 583.0 681.5 582.3 685.0 582.0C688.5 581.7 694.4 581.3 697.9 581.0C701.4 580.7 707.4 580.2 710.9 579.7C714.4 579.2 720.7 578.0 723.8 577.1C726.9 576.2 731.6 574.0 734.2 573.0C736.8 572.0 741.0 570.2 743.2 569.6C745.4 569.0 749.3 568.3 751.0 568.4C752.7 568.5 754.9 570.0 756.2 570.6C757.5 571.2 760.3 572.7 760.9 573.0" fill="none" stroke="#111" stroke-width="1.75" stroke-linejoin="round" stroke-linecap="butt" />
<text x="636.5" y="578.4" transform="rotate(15 636.5 578.4)" font-size="17.2" fill="#111" stroke="#111" stroke-width="0.3" text-anchor="middle" dominant-baseline="central">15</text>
<text x="617.9" y="592.8" transform="rotate(15 617.9 592.8)" font-size="17.2" fill="#111" stroke="#111" stroke-width="0.3" text-anchor="middle" dominant-baseline="central">15</text>
</g>
<rect x="52.5" y="28.3" width="305" height="347.1" fill="none" stroke="#000" stroke-width="1.1"/>
<rect x="474.5" y="28.3" width="294" height="347.1" fill="none" stroke="#000" stroke-width="1.1"/>
<rect x="52.5" y="524.0" width="305" height="346.8" fill="none" stroke="#000" stroke-width="1.1"/>
<rect x="474.5" y="524.0" width="294" height="346.8" fill="none" stroke="#000" stroke-width="1.1"/>
<path d="M130.3 375.4v6.3" stroke="#000" stroke-width="1.1"/>
<path d="M281.0 375.4v6.3" stroke="#000" stroke-width="1.1"/>
<text x="128.6" y="397.5" font-size="13.6" text-anchor="middle" fill="#000" stroke="#000" stroke-width="0.25" >100°W</text>
<text x="281.3" y="397.5" font-size="13.6" text-anchor="middle" fill="#000" stroke="#000" stroke-width="0.25" >80°W</text>
<path d="M543.5 375.4v6.3" stroke="#000" stroke-width="1.1"/>
<path d="M691.8 375.4v6.3" stroke="#000" stroke-width="1.1"/>
<text x="542.0" y="397.5" font-size="13.6" text-anchor="middle" fill="#000" stroke="#000" stroke-width="0.25" >100°W</text>
<text x="692.3" y="397.5" font-size="13.6" text-anchor="middle" fill="#000" stroke="#000" stroke-width="0.25" >80°W</text>
<path d="M130.3 870.8v6.3" stroke="#000" stroke-width="1.1"/>
<path d="M281.0 870.8v6.3" stroke="#000" stroke-width="1.1"/>
<text x="128.6" y="892.9" font-size="13.6" text-anchor="middle" fill="#000" stroke="#000" stroke-width="0.25" >100°W</text>
<text x="281.3" y="892.9" font-size="13.6" text-anchor="middle" fill="#000" stroke="#000" stroke-width="0.25" >80°W</text>
<path d="M543.5 870.8v6.3" stroke="#000" stroke-width="1.1"/>
<path d="M691.8 870.8v6.3" stroke="#000" stroke-width="1.1"/>
<text x="542.0" y="892.9" font-size="13.6" text-anchor="middle" fill="#000" stroke="#000" stroke-width="0.25" >100°W</text>
<text x="692.3" y="892.9" font-size="13.6" text-anchor="middle" fill="#000" stroke="#000" stroke-width="0.25" >80°W</text>
<path d="M52.5 142.1h-6.3" stroke="#000" stroke-width="1.1"/>
<path d="M52.5 293.0h-6.3" stroke="#000" stroke-width="1.1"/>
<text x="39.0" y="147.0" font-size="13.6" text-anchor="end" fill="#000" stroke="#000" stroke-width="0.25" >20°S</text>
<text x="39.0" y="297.9" font-size="13.6" text-anchor="end" fill="#000" stroke="#000" stroke-width="0.25" >40°S</text>
<path d="M52.5 637.6h-6.3" stroke="#000" stroke-width="1.1"/>
<path d="M52.5 788.6h-6.3" stroke="#000" stroke-width="1.1"/>
<text x="39.0" y="642.5" font-size="13.6" text-anchor="end" fill="#000" stroke="#000" stroke-width="0.25" >20°S</text>
<text x="39.0" y="793.5" font-size="13.6" text-anchor="end" fill="#000" stroke="#000" stroke-width="0.25" >40°S</text>
<path d="M474.5 28.3h-6.3" stroke="#000" stroke-width="1.1"/>
<text x="461.3" y="32.8" font-size="13.6" text-anchor="end" fill="#000" stroke="#000" stroke-width="0.25" >0</text>
<path d="M474.5 97.7h-6.3" stroke="#000" stroke-width="1.1"/>
<text x="461.3" y="102.2" font-size="13.6" text-anchor="end" fill="#000" stroke="#000" stroke-width="0.25" >200</text>
<path d="M474.5 167.1h-6.3" stroke="#000" stroke-width="1.1"/>
<text x="461.3" y="171.6" font-size="13.6" text-anchor="end" fill="#000" stroke="#000" stroke-width="0.25" >400</text>
<path d="M474.5 236.6h-6.3" stroke="#000" stroke-width="1.1"/>
<text x="461.3" y="241.1" font-size="13.6" text-anchor="end" fill="#000" stroke="#000" stroke-width="0.25" >600</text>
<path d="M474.5 306.0h-6.3" stroke="#000" stroke-width="1.1"/>
<text x="461.3" y="310.5" font-size="13.6" text-anchor="end" fill="#000" stroke="#000" stroke-width="0.25" >800</text>
<path d="M474.5 375.4h-6.3" stroke="#000" stroke-width="1.1"/>
<text x="461.3" y="379.9" font-size="13.6" text-anchor="end" fill="#000" stroke="#000" stroke-width="0.25" >1000</text>
<text x="0" y="0" transform="translate(421.4 201.9) rotate(-90)" font-size="12.4" text-anchor="middle" fill="#000">depth (m)</text>
<path d="M474.5 524.0h-6.3" stroke="#000" stroke-width="1.1"/>
<text x="461.3" y="528.5" font-size="13.6" text-anchor="end" fill="#000" stroke="#000" stroke-width="0.25" >0</text>
<path d="M474.5 593.4h-6.3" stroke="#000" stroke-width="1.1"/>
<text x="461.3" y="597.9" font-size="13.6" text-anchor="end" fill="#000" stroke="#000" stroke-width="0.25" >200</text>
<path d="M474.5 662.7h-6.3" stroke="#000" stroke-width="1.1"/>
<text x="461.3" y="667.2" font-size="13.6" text-anchor="end" fill="#000" stroke="#000" stroke-width="0.25" >400</text>
<path d="M474.5 732.1h-6.3" stroke="#000" stroke-width="1.1"/>
<text x="461.3" y="736.6" font-size="13.6" text-anchor="end" fill="#000" stroke="#000" stroke-width="0.25" >600</text>
<path d="M474.5 801.4h-6.3" stroke="#000" stroke-width="1.1"/>
<text x="461.3" y="805.9" font-size="13.6" text-anchor="end" fill="#000" stroke="#000" stroke-width="0.25" >800</text>
<path d="M474.5 870.8h-6.3" stroke="#000" stroke-width="1.1"/>
<text x="461.3" y="875.3" font-size="13.6" text-anchor="end" fill="#000" stroke="#000" stroke-width="0.25" >1000</text>
<text x="0" y="0" transform="translate(421.4 697.4) rotate(-90)" font-size="12.4" text-anchor="middle" fill="#000">depth (m)</text>
<rect x="160.20" y="419.4" width="46.20" height="14.8" fill="rgb(24,24,255)"/>
<rect x="206.10" y="419.4" width="46.20" height="14.8" fill="rgb(76,76,255)"/>
<rect x="252.00" y="419.4" width="46.20" height="14.8" fill="rgb(128,128,255)"/>
<rect x="297.90" y="419.4" width="46.20" height="14.8" fill="rgb(178,178,255)"/>
<rect x="343.80" y="419.4" width="46.20" height="14.8" fill="rgb(230,230,255)"/>
<rect x="389.70" y="419.4" width="46.20" height="14.8" fill="rgb(255,230,230)"/>
<rect x="435.60" y="419.4" width="46.20" height="14.8" fill="rgb(255,178,178)"/>
<rect x="481.50" y="419.4" width="46.20" height="14.8" fill="rgb(255,126,126)"/>
<rect x="527.40" y="419.4" width="46.20" height="14.8" fill="rgb(255,76,76)"/>
<rect x="573.30" y="419.4" width="46.20" height="14.8" fill="rgb(255,24,24)"/>
<path d="M160.3 419.4L137.9 426.8L160.3 434.2Z" fill="rgb(0,0,255)"/>
<path d="M160.3 419.4L619.3 419.4L640.2 426.8L619.3 434.2L160.3 434.2L137.9 426.8Z" fill="none" stroke="#000" stroke-width="1.1" stroke-linejoin="miter"/>
<path d="M619.3 419.9L638.7 426.8L619.3 433.7Z" fill="rgb(255,0,0)"/>
<path d="M160.3 434.2v6.9" stroke="#000" stroke-width="1.1"/>
<text x="159.4" y="456.8" font-size="13.25" text-anchor="middle" fill="#000" stroke="#000" stroke-width="0.25" >−0.5</text>
<path d="M252.1 434.2v6.9" stroke="#000" stroke-width="1.1"/>
<text x="251.2" y="456.8" font-size="13.25" text-anchor="middle" fill="#000" stroke="#000" stroke-width="0.25" >−0.3</text>
<path d="M343.9 434.2v6.9" stroke="#000" stroke-width="1.1"/>
<text x="343.0" y="456.8" font-size="13.25" text-anchor="middle" fill="#000" stroke="#000" stroke-width="0.25" >−0.1</text>
<path d="M435.7 434.2v6.9" stroke="#000" stroke-width="1.1"/>
<text x="435.7" y="456.8" font-size="13.25" text-anchor="middle" fill="#000" stroke="#000" stroke-width="0.25" >0.1</text>
<path d="M527.5 434.2v6.9" stroke="#000" stroke-width="1.1"/>
<text x="527.5" y="456.8" font-size="13.25" text-anchor="middle" fill="#000" stroke="#000" stroke-width="0.25" >0.3</text>
<path d="M619.3 434.2v6.9" stroke="#000" stroke-width="1.1"/>
<text x="619.3" y="456.8" font-size="13.25" text-anchor="middle" fill="#000" stroke="#000" stroke-width="0.25" >0.5</text>
<text x="388.7" y="480.6" font-size="20.4" text-anchor="middle" fill="#000">mmol.m<tspan dy="-7.6" font-size="14.3">−3</tspan><tspan dy="7.6"> / yr</tspan></text>
<rect x="136.90" y="914.3" width="48.40" height="15.0" fill="rgb(42,0,0)"/>
<rect x="185.00" y="914.3" width="48.40" height="15.0" fill="rgb(110,0,0)"/>
<rect x="233.10" y="914.3" width="48.40" height="15.0" fill="rgb(179,0,0)"/>
<rect x="281.20" y="914.3" width="48.40" height="15.0" fill="rgb(244,0,0)"/>
<rect x="329.30" y="914.3" width="48.40" height="15.0" fill="rgb(255,58,0)"/>
<rect x="377.40" y="914.3" width="48.40" height="15.0" fill="rgb(255,123,0)"/>
<rect x="425.50" y="914.3" width="48.40" height="15.0" fill="rgb(255,191,0)"/>
<rect x="473.60" y="914.3" width="48.40" height="15.0" fill="rgb(255,255,7)"/>
<rect x="521.70" y="914.3" width="48.40" height="15.0" fill="rgb(255,255,105)"/>
<rect x="569.80" y="914.3" width="48.40" height="15.0" fill="rgb(255,255,208)"/>
<path d="M618.0 914.3L640.2 921.8L618.0 929.3Z" fill="rgb(255,255,255)"/>
<path d="M137.0 914.3L618.0 914.3L640.2 921.8L618.0 929.3L137.0 929.3Z" fill="none" stroke="#000" stroke-width="1.1" stroke-linejoin="miter"/>
<path d="M137.0 929.3v6.9" stroke="#000" stroke-width="1.1"/>
<text x="137.0" y="951.9" font-size="13.25" text-anchor="middle" fill="#000" stroke="#000" stroke-width="0.25" >0.00</text>
<path d="M233.2 929.3v6.9" stroke="#000" stroke-width="1.1"/>
<text x="233.2" y="951.9" font-size="13.25" text-anchor="middle" fill="#000" stroke="#000" stroke-width="0.25" >0.01</text>
<path d="M329.4 929.3v6.9" stroke="#000" stroke-width="1.1"/>
<text x="329.4" y="951.9" font-size="13.25" text-anchor="middle" fill="#000" stroke="#000" stroke-width="0.25" >0.02</text>
<path d="M425.6 929.3v6.9" stroke="#000" stroke-width="1.1"/>
<text x="425.6" y="951.9" font-size="13.25" text-anchor="middle" fill="#000" stroke="#000" stroke-width="0.25" >0.03</text>
<path d="M521.8 929.3v6.9" stroke="#000" stroke-width="1.1"/>
<text x="521.8" y="951.9" font-size="13.25" text-anchor="middle" fill="#000" stroke="#000" stroke-width="0.25" >0.04</text>
<path d="M618.0 929.3v6.9" stroke="#000" stroke-width="1.1"/>
<text x="618.0" y="951.9" font-size="13.25" text-anchor="middle" fill="#000" stroke="#000" stroke-width="0.25" >0.05</text>
<text x="389.4" y="970.1" font-size="20.4" text-anchor="middle" fill="#000">°C / yr</text>
<text x="-0.2" y="24.2" font-family="'Liberation Sans', Arial, sans-serif" font-weight="bold" font-size="29.6" fill="#000">A</text>
<text x="384.8" y="24.2" font-family="'Liberation Sans', Arial, sans-serif" font-weight="bold" font-size="29.6" fill="#000">B</text>
<text x="-0.2" y="517.0" font-family="'Liberation Sans', Arial, sans-serif" font-weight="bold" font-size="29.6" fill="#000">C</text>
<text x="388.3" y="517.0" font-family="'Liberation Sans', Arial, sans-serif" font-weight="bold" font-size="29.6" fill="#000">D</text>
</svg>
</body></html>
